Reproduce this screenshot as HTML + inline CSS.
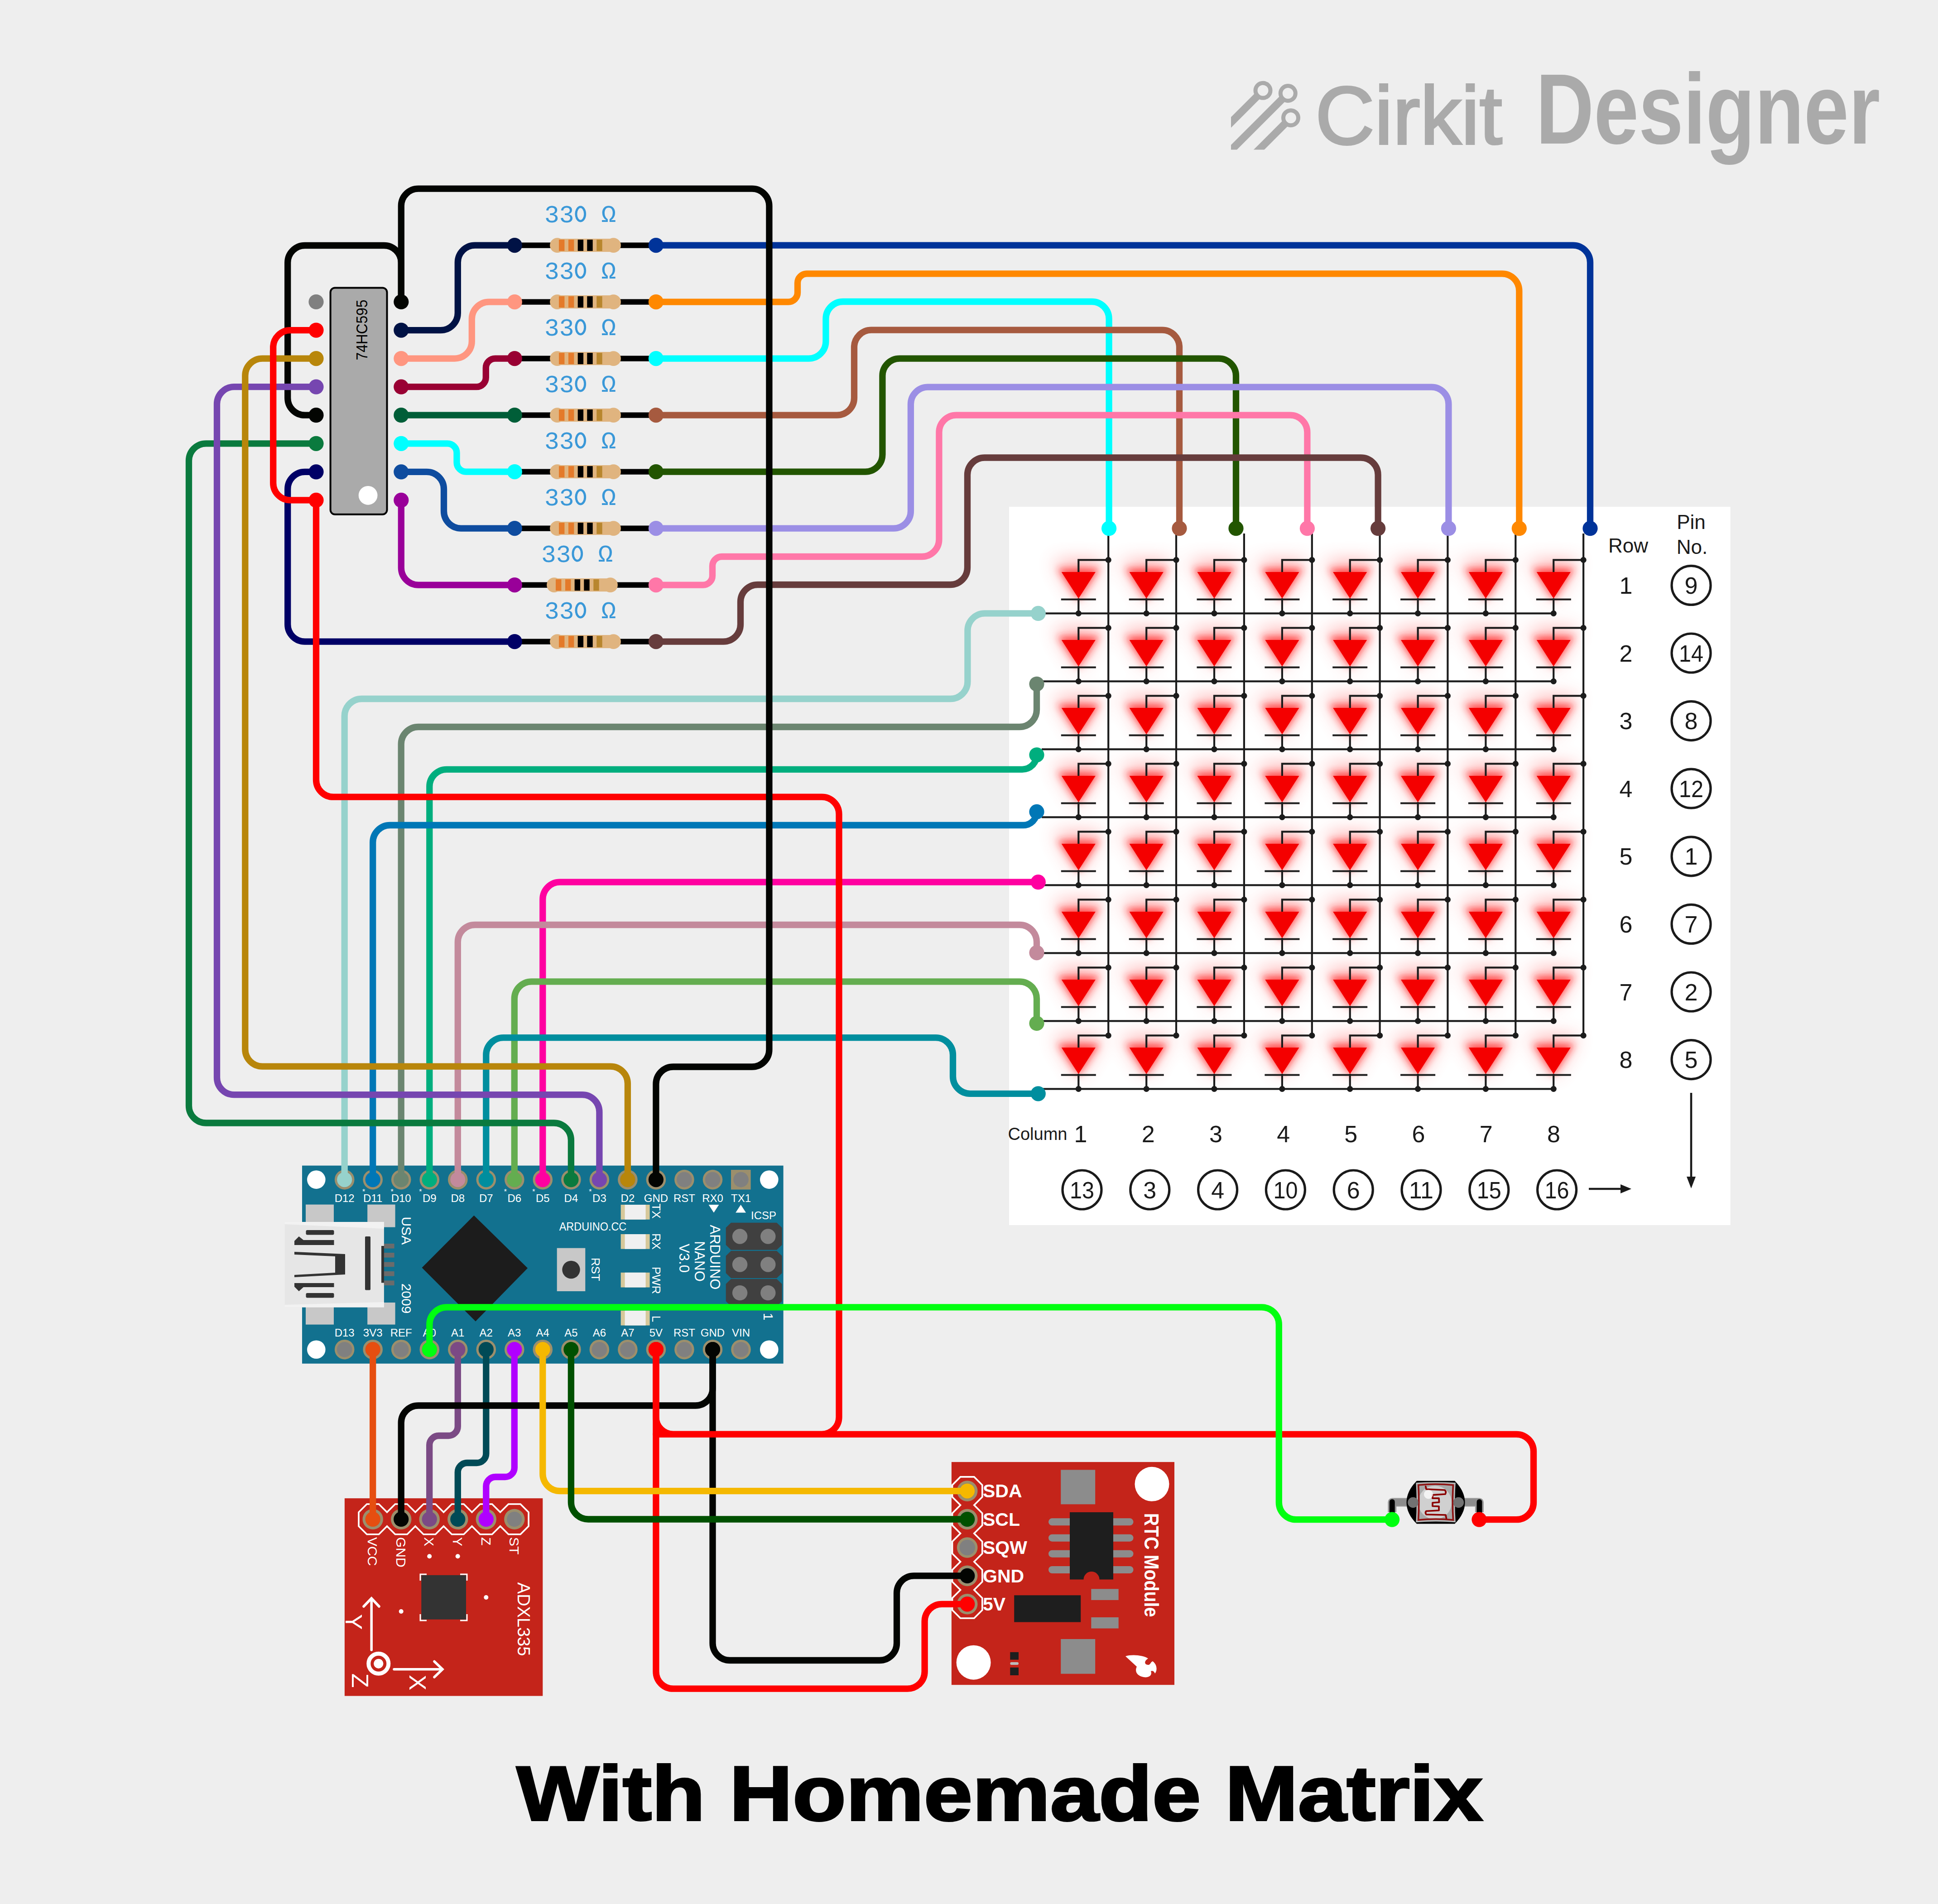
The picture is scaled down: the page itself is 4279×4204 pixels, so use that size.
<!DOCTYPE html><html><head><meta charset="utf-8"><style>html,body{margin:0;padding:0;background:#eeeeee;overflow:hidden}svg{display:block}</style></head><body><svg width="4279" height="4204" viewBox="0 0 4279 4204"><rect x="0" y="0" width="4279" height="4204" fill="#eeeeee"/>
<g fill="none" stroke="#aaaaaa" stroke-width="9">
<circle cx="2788.5" cy="199.8" r="16.5"/>
<circle cx="2843.8" cy="206.0" r="16.5"/>
<circle cx="2850.0" cy="260.2" r="16.5"/>
</g>
<clipPath id="lgclip"><rect x="2718" y="150" width="300" height="180.6"/></clipPath>
<g stroke="#aaaaaa" stroke-width="16.6" clip-path="url(#lgclip)">
<line x1="2776.8" y1="211.5" x2="2636.8" y2="351.5"/>
<line x1="2832.1" y1="217.7" x2="2612.1" y2="437.7"/>
<line x1="2838.3" y1="271.9" x2="2698.3" y2="411.9"/>
</g>
<text x="2904" y="318" font-family="Liberation Sans" font-size="182" fill="#aaaaaa" stroke="#aaaaaa" stroke-width="4" textLength="413" lengthAdjust="spacingAndGlyphs">Cirkit</text>
<text x="3391" y="316.6" font-family="Liberation Sans" font-weight="bold" font-size="221" fill="#aaaaaa" textLength="760" lengthAdjust="spacingAndGlyphs">Designer</text>
<rect x="2228" y="1119" width="1592.6" height="1586" fill="#ffffff"/>
<defs><filter id="glow" x="-50%" y="-50%" width="200%" height="200%"><feGaussianBlur stdDeviation="20"/></filter><filter id="glow2" x="-50%" y="-50%" width="200%" height="200%"><feGaussianBlur stdDeviation="8"/></filter></defs>
<g fill="#ff4040" opacity="0.4" filter="url(#glow)">
<path d="M2326.3 1238.1 L2436.3 1238.1 L2381.3 1329.1 Z"/>
<path d="M2476.2 1238.1 L2586.2 1238.1 L2531.2 1329.1 Z"/>
<path d="M2626.0 1238.1 L2736.0 1238.1 L2681.0 1329.1 Z"/>
<path d="M2775.9 1238.1 L2885.9 1238.1 L2830.9 1329.1 Z"/>
<path d="M2925.7 1238.1 L3035.7 1238.1 L2980.7 1329.1 Z"/>
<path d="M3075.6 1238.1 L3185.6 1238.1 L3130.6 1329.1 Z"/>
<path d="M3225.4 1238.1 L3335.4 1238.1 L3280.4 1329.1 Z"/>
<path d="M3375.2 1238.1 L3485.2 1238.1 L3430.2 1329.1 Z"/>
<path d="M2326.3 1388.1 L2436.3 1388.1 L2381.3 1479.1 Z"/>
<path d="M2476.2 1388.1 L2586.2 1388.1 L2531.2 1479.1 Z"/>
<path d="M2626.0 1388.1 L2736.0 1388.1 L2681.0 1479.1 Z"/>
<path d="M2775.9 1388.1 L2885.9 1388.1 L2830.9 1479.1 Z"/>
<path d="M2925.7 1388.1 L3035.7 1388.1 L2980.7 1479.1 Z"/>
<path d="M3075.6 1388.1 L3185.6 1388.1 L3130.6 1479.1 Z"/>
<path d="M3225.4 1388.1 L3335.4 1388.1 L3280.4 1479.1 Z"/>
<path d="M3375.2 1388.1 L3485.2 1388.1 L3430.2 1479.1 Z"/>
<path d="M2326.3 1538.1 L2436.3 1538.1 L2381.3 1629.1 Z"/>
<path d="M2476.2 1538.1 L2586.2 1538.1 L2531.2 1629.1 Z"/>
<path d="M2626.0 1538.1 L2736.0 1538.1 L2681.0 1629.1 Z"/>
<path d="M2775.9 1538.1 L2885.9 1538.1 L2830.9 1629.1 Z"/>
<path d="M2925.7 1538.1 L3035.7 1538.1 L2980.7 1629.1 Z"/>
<path d="M3075.6 1538.1 L3185.6 1538.1 L3130.6 1629.1 Z"/>
<path d="M3225.4 1538.1 L3335.4 1538.1 L3280.4 1629.1 Z"/>
<path d="M3375.2 1538.1 L3485.2 1538.1 L3430.2 1629.1 Z"/>
<path d="M2326.3 1688.1 L2436.3 1688.1 L2381.3 1779.1 Z"/>
<path d="M2476.2 1688.1 L2586.2 1688.1 L2531.2 1779.1 Z"/>
<path d="M2626.0 1688.1 L2736.0 1688.1 L2681.0 1779.1 Z"/>
<path d="M2775.9 1688.1 L2885.9 1688.1 L2830.9 1779.1 Z"/>
<path d="M2925.7 1688.1 L3035.7 1688.1 L2980.7 1779.1 Z"/>
<path d="M3075.6 1688.1 L3185.6 1688.1 L3130.6 1779.1 Z"/>
<path d="M3225.4 1688.1 L3335.4 1688.1 L3280.4 1779.1 Z"/>
<path d="M3375.2 1688.1 L3485.2 1688.1 L3430.2 1779.1 Z"/>
<path d="M2326.3 1838.1 L2436.3 1838.1 L2381.3 1929.1 Z"/>
<path d="M2476.2 1838.1 L2586.2 1838.1 L2531.2 1929.1 Z"/>
<path d="M2626.0 1838.1 L2736.0 1838.1 L2681.0 1929.1 Z"/>
<path d="M2775.9 1838.1 L2885.9 1838.1 L2830.9 1929.1 Z"/>
<path d="M2925.7 1838.1 L3035.7 1838.1 L2980.7 1929.1 Z"/>
<path d="M3075.6 1838.1 L3185.6 1838.1 L3130.6 1929.1 Z"/>
<path d="M3225.4 1838.1 L3335.4 1838.1 L3280.4 1929.1 Z"/>
<path d="M3375.2 1838.1 L3485.2 1838.1 L3430.2 1929.1 Z"/>
<path d="M2326.3 1988.1 L2436.3 1988.1 L2381.3 2079.1 Z"/>
<path d="M2476.2 1988.1 L2586.2 1988.1 L2531.2 2079.1 Z"/>
<path d="M2626.0 1988.1 L2736.0 1988.1 L2681.0 2079.1 Z"/>
<path d="M2775.9 1988.1 L2885.9 1988.1 L2830.9 2079.1 Z"/>
<path d="M2925.7 1988.1 L3035.7 1988.1 L2980.7 2079.1 Z"/>
<path d="M3075.6 1988.1 L3185.6 1988.1 L3130.6 2079.1 Z"/>
<path d="M3225.4 1988.1 L3335.4 1988.1 L3280.4 2079.1 Z"/>
<path d="M3375.2 1988.1 L3485.2 1988.1 L3430.2 2079.1 Z"/>
<path d="M2326.3 2138.1 L2436.3 2138.1 L2381.3 2229.1 Z"/>
<path d="M2476.2 2138.1 L2586.2 2138.1 L2531.2 2229.1 Z"/>
<path d="M2626.0 2138.1 L2736.0 2138.1 L2681.0 2229.1 Z"/>
<path d="M2775.9 2138.1 L2885.9 2138.1 L2830.9 2229.1 Z"/>
<path d="M2925.7 2138.1 L3035.7 2138.1 L2980.7 2229.1 Z"/>
<path d="M3075.6 2138.1 L3185.6 2138.1 L3130.6 2229.1 Z"/>
<path d="M3225.4 2138.1 L3335.4 2138.1 L3280.4 2229.1 Z"/>
<path d="M3375.2 2138.1 L3485.2 2138.1 L3430.2 2229.1 Z"/>
<path d="M2326.3 2288.1 L2436.3 2288.1 L2381.3 2379.1 Z"/>
<path d="M2476.2 2288.1 L2586.2 2288.1 L2531.2 2379.1 Z"/>
<path d="M2626.0 2288.1 L2736.0 2288.1 L2681.0 2379.1 Z"/>
<path d="M2775.9 2288.1 L2885.9 2288.1 L2830.9 2379.1 Z"/>
<path d="M2925.7 2288.1 L3035.7 2288.1 L2980.7 2379.1 Z"/>
<path d="M3075.6 2288.1 L3185.6 2288.1 L3130.6 2379.1 Z"/>
<path d="M3225.4 2288.1 L3335.4 2288.1 L3280.4 2379.1 Z"/>
<path d="M3375.2 2288.1 L3485.2 2288.1 L3430.2 2379.1 Z"/>
</g>
<g fill="#ff2020" opacity="0.7" filter="url(#glow2)">
<path d="M2335.3 1255.1 L2427.3 1255.1 L2381.3 1325.1 Z"/>
<path d="M2485.2 1255.1 L2577.2 1255.1 L2531.2 1325.1 Z"/>
<path d="M2635.0 1255.1 L2727.0 1255.1 L2681.0 1325.1 Z"/>
<path d="M2784.9 1255.1 L2876.9 1255.1 L2830.9 1325.1 Z"/>
<path d="M2934.7 1255.1 L3026.7 1255.1 L2980.7 1325.1 Z"/>
<path d="M3084.6 1255.1 L3176.6 1255.1 L3130.6 1325.1 Z"/>
<path d="M3234.4 1255.1 L3326.4 1255.1 L3280.4 1325.1 Z"/>
<path d="M3384.2 1255.1 L3476.2 1255.1 L3430.2 1325.1 Z"/>
<path d="M2335.3 1405.1 L2427.3 1405.1 L2381.3 1475.1 Z"/>
<path d="M2485.2 1405.1 L2577.2 1405.1 L2531.2 1475.1 Z"/>
<path d="M2635.0 1405.1 L2727.0 1405.1 L2681.0 1475.1 Z"/>
<path d="M2784.9 1405.1 L2876.9 1405.1 L2830.9 1475.1 Z"/>
<path d="M2934.7 1405.1 L3026.7 1405.1 L2980.7 1475.1 Z"/>
<path d="M3084.6 1405.1 L3176.6 1405.1 L3130.6 1475.1 Z"/>
<path d="M3234.4 1405.1 L3326.4 1405.1 L3280.4 1475.1 Z"/>
<path d="M3384.2 1405.1 L3476.2 1405.1 L3430.2 1475.1 Z"/>
<path d="M2335.3 1555.1 L2427.3 1555.1 L2381.3 1625.1 Z"/>
<path d="M2485.2 1555.1 L2577.2 1555.1 L2531.2 1625.1 Z"/>
<path d="M2635.0 1555.1 L2727.0 1555.1 L2681.0 1625.1 Z"/>
<path d="M2784.9 1555.1 L2876.9 1555.1 L2830.9 1625.1 Z"/>
<path d="M2934.7 1555.1 L3026.7 1555.1 L2980.7 1625.1 Z"/>
<path d="M3084.6 1555.1 L3176.6 1555.1 L3130.6 1625.1 Z"/>
<path d="M3234.4 1555.1 L3326.4 1555.1 L3280.4 1625.1 Z"/>
<path d="M3384.2 1555.1 L3476.2 1555.1 L3430.2 1625.1 Z"/>
<path d="M2335.3 1705.1 L2427.3 1705.1 L2381.3 1775.1 Z"/>
<path d="M2485.2 1705.1 L2577.2 1705.1 L2531.2 1775.1 Z"/>
<path d="M2635.0 1705.1 L2727.0 1705.1 L2681.0 1775.1 Z"/>
<path d="M2784.9 1705.1 L2876.9 1705.1 L2830.9 1775.1 Z"/>
<path d="M2934.7 1705.1 L3026.7 1705.1 L2980.7 1775.1 Z"/>
<path d="M3084.6 1705.1 L3176.6 1705.1 L3130.6 1775.1 Z"/>
<path d="M3234.4 1705.1 L3326.4 1705.1 L3280.4 1775.1 Z"/>
<path d="M3384.2 1705.1 L3476.2 1705.1 L3430.2 1775.1 Z"/>
<path d="M2335.3 1855.1 L2427.3 1855.1 L2381.3 1925.1 Z"/>
<path d="M2485.2 1855.1 L2577.2 1855.1 L2531.2 1925.1 Z"/>
<path d="M2635.0 1855.1 L2727.0 1855.1 L2681.0 1925.1 Z"/>
<path d="M2784.9 1855.1 L2876.9 1855.1 L2830.9 1925.1 Z"/>
<path d="M2934.7 1855.1 L3026.7 1855.1 L2980.7 1925.1 Z"/>
<path d="M3084.6 1855.1 L3176.6 1855.1 L3130.6 1925.1 Z"/>
<path d="M3234.4 1855.1 L3326.4 1855.1 L3280.4 1925.1 Z"/>
<path d="M3384.2 1855.1 L3476.2 1855.1 L3430.2 1925.1 Z"/>
<path d="M2335.3 2005.1 L2427.3 2005.1 L2381.3 2075.1 Z"/>
<path d="M2485.2 2005.1 L2577.2 2005.1 L2531.2 2075.1 Z"/>
<path d="M2635.0 2005.1 L2727.0 2005.1 L2681.0 2075.1 Z"/>
<path d="M2784.9 2005.1 L2876.9 2005.1 L2830.9 2075.1 Z"/>
<path d="M2934.7 2005.1 L3026.7 2005.1 L2980.7 2075.1 Z"/>
<path d="M3084.6 2005.1 L3176.6 2005.1 L3130.6 2075.1 Z"/>
<path d="M3234.4 2005.1 L3326.4 2005.1 L3280.4 2075.1 Z"/>
<path d="M3384.2 2005.1 L3476.2 2005.1 L3430.2 2075.1 Z"/>
<path d="M2335.3 2155.1 L2427.3 2155.1 L2381.3 2225.1 Z"/>
<path d="M2485.2 2155.1 L2577.2 2155.1 L2531.2 2225.1 Z"/>
<path d="M2635.0 2155.1 L2727.0 2155.1 L2681.0 2225.1 Z"/>
<path d="M2784.9 2155.1 L2876.9 2155.1 L2830.9 2225.1 Z"/>
<path d="M2934.7 2155.1 L3026.7 2155.1 L2980.7 2225.1 Z"/>
<path d="M3084.6 2155.1 L3176.6 2155.1 L3130.6 2225.1 Z"/>
<path d="M3234.4 2155.1 L3326.4 2155.1 L3280.4 2225.1 Z"/>
<path d="M3384.2 2155.1 L3476.2 2155.1 L3430.2 2225.1 Z"/>
<path d="M2335.3 2305.1 L2427.3 2305.1 L2381.3 2375.1 Z"/>
<path d="M2485.2 2305.1 L2577.2 2305.1 L2531.2 2375.1 Z"/>
<path d="M2635.0 2305.1 L2727.0 2305.1 L2681.0 2375.1 Z"/>
<path d="M2784.9 2305.1 L2876.9 2305.1 L2830.9 2375.1 Z"/>
<path d="M2934.7 2305.1 L3026.7 2305.1 L2980.7 2375.1 Z"/>
<path d="M3084.6 2305.1 L3176.6 2305.1 L3130.6 2375.1 Z"/>
<path d="M3234.4 2305.1 L3326.4 2305.1 L3280.4 2375.1 Z"/>
<path d="M3384.2 2305.1 L3476.2 2305.1 L3430.2 2375.1 Z"/>
</g>
<g stroke="#1c1c1c" stroke-width="4.2" fill="none">
<line x1="2447.2" y1="1178" x2="2447.2" y2="2286.4"/>
<line x1="2597.0" y1="1178" x2="2597.0" y2="2286.4"/>
<line x1="2746.9" y1="1178" x2="2746.9" y2="2286.4"/>
<line x1="2896.8" y1="1178" x2="2896.8" y2="2286.4"/>
<line x1="3046.6" y1="1178" x2="3046.6" y2="2286.4"/>
<line x1="3196.4" y1="1178" x2="3196.4" y2="2286.4"/>
<line x1="3346.3" y1="1178" x2="3346.3" y2="2286.4"/>
<line x1="3496.1" y1="1178" x2="3496.1" y2="2286.4"/>
<line x1="2300" y1="1354.3" x2="3430.2" y2="1354.3"/>
<path d="M2447.2 1236.4 L2381.3 1236.4 L2381.3 1264.4"/>
<line x1="2381.3" y1="1321.0" x2="2381.3" y2="1354.3"/>
<line x1="2342.8" y1="1323.5" x2="2419.8" y2="1323.5"/>
<path d="M2597.0 1236.4 L2531.2 1236.4 L2531.2 1264.4"/>
<line x1="2531.2" y1="1321.0" x2="2531.2" y2="1354.3"/>
<line x1="2492.7" y1="1323.5" x2="2569.7" y2="1323.5"/>
<path d="M2746.9 1236.4 L2681.0 1236.4 L2681.0 1264.4"/>
<line x1="2681.0" y1="1321.0" x2="2681.0" y2="1354.3"/>
<line x1="2642.5" y1="1323.5" x2="2719.5" y2="1323.5"/>
<path d="M2896.8 1236.4 L2830.9 1236.4 L2830.9 1264.4"/>
<line x1="2830.9" y1="1321.0" x2="2830.9" y2="1354.3"/>
<line x1="2792.4" y1="1323.5" x2="2869.4" y2="1323.5"/>
<path d="M3046.6 1236.4 L2980.7 1236.4 L2980.7 1264.4"/>
<line x1="2980.7" y1="1321.0" x2="2980.7" y2="1354.3"/>
<line x1="2942.2" y1="1323.5" x2="3019.2" y2="1323.5"/>
<path d="M3196.4 1236.4 L3130.6 1236.4 L3130.6 1264.4"/>
<line x1="3130.6" y1="1321.0" x2="3130.6" y2="1354.3"/>
<line x1="3092.1" y1="1323.5" x2="3169.1" y2="1323.5"/>
<path d="M3346.3 1236.4 L3280.4 1236.4 L3280.4 1264.4"/>
<line x1="3280.4" y1="1321.0" x2="3280.4" y2="1354.3"/>
<line x1="3241.9" y1="1323.5" x2="3318.9" y2="1323.5"/>
<path d="M3496.1 1236.4 L3430.2 1236.4 L3430.2 1264.4"/>
<line x1="3430.2" y1="1321.0" x2="3430.2" y2="1354.3"/>
<line x1="3391.8" y1="1323.5" x2="3468.8" y2="1323.5"/>
<line x1="2300" y1="1504.3" x2="3430.2" y2="1504.3"/>
<path d="M2447.2 1386.4 L2381.3 1386.4 L2381.3 1414.4"/>
<line x1="2381.3" y1="1471.0" x2="2381.3" y2="1504.3"/>
<line x1="2342.8" y1="1473.5" x2="2419.8" y2="1473.5"/>
<path d="M2597.0 1386.4 L2531.2 1386.4 L2531.2 1414.4"/>
<line x1="2531.2" y1="1471.0" x2="2531.2" y2="1504.3"/>
<line x1="2492.7" y1="1473.5" x2="2569.7" y2="1473.5"/>
<path d="M2746.9 1386.4 L2681.0 1386.4 L2681.0 1414.4"/>
<line x1="2681.0" y1="1471.0" x2="2681.0" y2="1504.3"/>
<line x1="2642.5" y1="1473.5" x2="2719.5" y2="1473.5"/>
<path d="M2896.8 1386.4 L2830.9 1386.4 L2830.9 1414.4"/>
<line x1="2830.9" y1="1471.0" x2="2830.9" y2="1504.3"/>
<line x1="2792.4" y1="1473.5" x2="2869.4" y2="1473.5"/>
<path d="M3046.6 1386.4 L2980.7 1386.4 L2980.7 1414.4"/>
<line x1="2980.7" y1="1471.0" x2="2980.7" y2="1504.3"/>
<line x1="2942.2" y1="1473.5" x2="3019.2" y2="1473.5"/>
<path d="M3196.4 1386.4 L3130.6 1386.4 L3130.6 1414.4"/>
<line x1="3130.6" y1="1471.0" x2="3130.6" y2="1504.3"/>
<line x1="3092.1" y1="1473.5" x2="3169.1" y2="1473.5"/>
<path d="M3346.3 1386.4 L3280.4 1386.4 L3280.4 1414.4"/>
<line x1="3280.4" y1="1471.0" x2="3280.4" y2="1504.3"/>
<line x1="3241.9" y1="1473.5" x2="3318.9" y2="1473.5"/>
<path d="M3496.1 1386.4 L3430.2 1386.4 L3430.2 1414.4"/>
<line x1="3430.2" y1="1471.0" x2="3430.2" y2="1504.3"/>
<line x1="3391.8" y1="1473.5" x2="3468.8" y2="1473.5"/>
<line x1="2300" y1="1654.3" x2="3430.2" y2="1654.3"/>
<path d="M2447.2 1536.4 L2381.3 1536.4 L2381.3 1564.4"/>
<line x1="2381.3" y1="1621.0" x2="2381.3" y2="1654.3"/>
<line x1="2342.8" y1="1623.5" x2="2419.8" y2="1623.5"/>
<path d="M2597.0 1536.4 L2531.2 1536.4 L2531.2 1564.4"/>
<line x1="2531.2" y1="1621.0" x2="2531.2" y2="1654.3"/>
<line x1="2492.7" y1="1623.5" x2="2569.7" y2="1623.5"/>
<path d="M2746.9 1536.4 L2681.0 1536.4 L2681.0 1564.4"/>
<line x1="2681.0" y1="1621.0" x2="2681.0" y2="1654.3"/>
<line x1="2642.5" y1="1623.5" x2="2719.5" y2="1623.5"/>
<path d="M2896.8 1536.4 L2830.9 1536.4 L2830.9 1564.4"/>
<line x1="2830.9" y1="1621.0" x2="2830.9" y2="1654.3"/>
<line x1="2792.4" y1="1623.5" x2="2869.4" y2="1623.5"/>
<path d="M3046.6 1536.4 L2980.7 1536.4 L2980.7 1564.4"/>
<line x1="2980.7" y1="1621.0" x2="2980.7" y2="1654.3"/>
<line x1="2942.2" y1="1623.5" x2="3019.2" y2="1623.5"/>
<path d="M3196.4 1536.4 L3130.6 1536.4 L3130.6 1564.4"/>
<line x1="3130.6" y1="1621.0" x2="3130.6" y2="1654.3"/>
<line x1="3092.1" y1="1623.5" x2="3169.1" y2="1623.5"/>
<path d="M3346.3 1536.4 L3280.4 1536.4 L3280.4 1564.4"/>
<line x1="3280.4" y1="1621.0" x2="3280.4" y2="1654.3"/>
<line x1="3241.9" y1="1623.5" x2="3318.9" y2="1623.5"/>
<path d="M3496.1 1536.4 L3430.2 1536.4 L3430.2 1564.4"/>
<line x1="3430.2" y1="1621.0" x2="3430.2" y2="1654.3"/>
<line x1="3391.8" y1="1623.5" x2="3468.8" y2="1623.5"/>
<line x1="2300" y1="1804.3" x2="3430.2" y2="1804.3"/>
<path d="M2447.2 1686.4 L2381.3 1686.4 L2381.3 1714.4"/>
<line x1="2381.3" y1="1771.0" x2="2381.3" y2="1804.3"/>
<line x1="2342.8" y1="1773.5" x2="2419.8" y2="1773.5"/>
<path d="M2597.0 1686.4 L2531.2 1686.4 L2531.2 1714.4"/>
<line x1="2531.2" y1="1771.0" x2="2531.2" y2="1804.3"/>
<line x1="2492.7" y1="1773.5" x2="2569.7" y2="1773.5"/>
<path d="M2746.9 1686.4 L2681.0 1686.4 L2681.0 1714.4"/>
<line x1="2681.0" y1="1771.0" x2="2681.0" y2="1804.3"/>
<line x1="2642.5" y1="1773.5" x2="2719.5" y2="1773.5"/>
<path d="M2896.8 1686.4 L2830.9 1686.4 L2830.9 1714.4"/>
<line x1="2830.9" y1="1771.0" x2="2830.9" y2="1804.3"/>
<line x1="2792.4" y1="1773.5" x2="2869.4" y2="1773.5"/>
<path d="M3046.6 1686.4 L2980.7 1686.4 L2980.7 1714.4"/>
<line x1="2980.7" y1="1771.0" x2="2980.7" y2="1804.3"/>
<line x1="2942.2" y1="1773.5" x2="3019.2" y2="1773.5"/>
<path d="M3196.4 1686.4 L3130.6 1686.4 L3130.6 1714.4"/>
<line x1="3130.6" y1="1771.0" x2="3130.6" y2="1804.3"/>
<line x1="3092.1" y1="1773.5" x2="3169.1" y2="1773.5"/>
<path d="M3346.3 1686.4 L3280.4 1686.4 L3280.4 1714.4"/>
<line x1="3280.4" y1="1771.0" x2="3280.4" y2="1804.3"/>
<line x1="3241.9" y1="1773.5" x2="3318.9" y2="1773.5"/>
<path d="M3496.1 1686.4 L3430.2 1686.4 L3430.2 1714.4"/>
<line x1="3430.2" y1="1771.0" x2="3430.2" y2="1804.3"/>
<line x1="3391.8" y1="1773.5" x2="3468.8" y2="1773.5"/>
<line x1="2300" y1="1954.3" x2="3430.2" y2="1954.3"/>
<path d="M2447.2 1836.4 L2381.3 1836.4 L2381.3 1864.4"/>
<line x1="2381.3" y1="1921.0" x2="2381.3" y2="1954.3"/>
<line x1="2342.8" y1="1923.5" x2="2419.8" y2="1923.5"/>
<path d="M2597.0 1836.4 L2531.2 1836.4 L2531.2 1864.4"/>
<line x1="2531.2" y1="1921.0" x2="2531.2" y2="1954.3"/>
<line x1="2492.7" y1="1923.5" x2="2569.7" y2="1923.5"/>
<path d="M2746.9 1836.4 L2681.0 1836.4 L2681.0 1864.4"/>
<line x1="2681.0" y1="1921.0" x2="2681.0" y2="1954.3"/>
<line x1="2642.5" y1="1923.5" x2="2719.5" y2="1923.5"/>
<path d="M2896.8 1836.4 L2830.9 1836.4 L2830.9 1864.4"/>
<line x1="2830.9" y1="1921.0" x2="2830.9" y2="1954.3"/>
<line x1="2792.4" y1="1923.5" x2="2869.4" y2="1923.5"/>
<path d="M3046.6 1836.4 L2980.7 1836.4 L2980.7 1864.4"/>
<line x1="2980.7" y1="1921.0" x2="2980.7" y2="1954.3"/>
<line x1="2942.2" y1="1923.5" x2="3019.2" y2="1923.5"/>
<path d="M3196.4 1836.4 L3130.6 1836.4 L3130.6 1864.4"/>
<line x1="3130.6" y1="1921.0" x2="3130.6" y2="1954.3"/>
<line x1="3092.1" y1="1923.5" x2="3169.1" y2="1923.5"/>
<path d="M3346.3 1836.4 L3280.4 1836.4 L3280.4 1864.4"/>
<line x1="3280.4" y1="1921.0" x2="3280.4" y2="1954.3"/>
<line x1="3241.9" y1="1923.5" x2="3318.9" y2="1923.5"/>
<path d="M3496.1 1836.4 L3430.2 1836.4 L3430.2 1864.4"/>
<line x1="3430.2" y1="1921.0" x2="3430.2" y2="1954.3"/>
<line x1="3391.8" y1="1923.5" x2="3468.8" y2="1923.5"/>
<line x1="2300" y1="2104.3" x2="3430.2" y2="2104.3"/>
<path d="M2447.2 1986.4 L2381.3 1986.4 L2381.3 2014.4"/>
<line x1="2381.3" y1="2071.0" x2="2381.3" y2="2104.3"/>
<line x1="2342.8" y1="2073.5" x2="2419.8" y2="2073.5"/>
<path d="M2597.0 1986.4 L2531.2 1986.4 L2531.2 2014.4"/>
<line x1="2531.2" y1="2071.0" x2="2531.2" y2="2104.3"/>
<line x1="2492.7" y1="2073.5" x2="2569.7" y2="2073.5"/>
<path d="M2746.9 1986.4 L2681.0 1986.4 L2681.0 2014.4"/>
<line x1="2681.0" y1="2071.0" x2="2681.0" y2="2104.3"/>
<line x1="2642.5" y1="2073.5" x2="2719.5" y2="2073.5"/>
<path d="M2896.8 1986.4 L2830.9 1986.4 L2830.9 2014.4"/>
<line x1="2830.9" y1="2071.0" x2="2830.9" y2="2104.3"/>
<line x1="2792.4" y1="2073.5" x2="2869.4" y2="2073.5"/>
<path d="M3046.6 1986.4 L2980.7 1986.4 L2980.7 2014.4"/>
<line x1="2980.7" y1="2071.0" x2="2980.7" y2="2104.3"/>
<line x1="2942.2" y1="2073.5" x2="3019.2" y2="2073.5"/>
<path d="M3196.4 1986.4 L3130.6 1986.4 L3130.6 2014.4"/>
<line x1="3130.6" y1="2071.0" x2="3130.6" y2="2104.3"/>
<line x1="3092.1" y1="2073.5" x2="3169.1" y2="2073.5"/>
<path d="M3346.3 1986.4 L3280.4 1986.4 L3280.4 2014.4"/>
<line x1="3280.4" y1="2071.0" x2="3280.4" y2="2104.3"/>
<line x1="3241.9" y1="2073.5" x2="3318.9" y2="2073.5"/>
<path d="M3496.1 1986.4 L3430.2 1986.4 L3430.2 2014.4"/>
<line x1="3430.2" y1="2071.0" x2="3430.2" y2="2104.3"/>
<line x1="3391.8" y1="2073.5" x2="3468.8" y2="2073.5"/>
<line x1="2300" y1="2254.3" x2="3430.2" y2="2254.3"/>
<path d="M2447.2 2136.4 L2381.3 2136.4 L2381.3 2164.4"/>
<line x1="2381.3" y1="2221.0" x2="2381.3" y2="2254.3"/>
<line x1="2342.8" y1="2223.5" x2="2419.8" y2="2223.5"/>
<path d="M2597.0 2136.4 L2531.2 2136.4 L2531.2 2164.4"/>
<line x1="2531.2" y1="2221.0" x2="2531.2" y2="2254.3"/>
<line x1="2492.7" y1="2223.5" x2="2569.7" y2="2223.5"/>
<path d="M2746.9 2136.4 L2681.0 2136.4 L2681.0 2164.4"/>
<line x1="2681.0" y1="2221.0" x2="2681.0" y2="2254.3"/>
<line x1="2642.5" y1="2223.5" x2="2719.5" y2="2223.5"/>
<path d="M2896.8 2136.4 L2830.9 2136.4 L2830.9 2164.4"/>
<line x1="2830.9" y1="2221.0" x2="2830.9" y2="2254.3"/>
<line x1="2792.4" y1="2223.5" x2="2869.4" y2="2223.5"/>
<path d="M3046.6 2136.4 L2980.7 2136.4 L2980.7 2164.4"/>
<line x1="2980.7" y1="2221.0" x2="2980.7" y2="2254.3"/>
<line x1="2942.2" y1="2223.5" x2="3019.2" y2="2223.5"/>
<path d="M3196.4 2136.4 L3130.6 2136.4 L3130.6 2164.4"/>
<line x1="3130.6" y1="2221.0" x2="3130.6" y2="2254.3"/>
<line x1="3092.1" y1="2223.5" x2="3169.1" y2="2223.5"/>
<path d="M3346.3 2136.4 L3280.4 2136.4 L3280.4 2164.4"/>
<line x1="3280.4" y1="2221.0" x2="3280.4" y2="2254.3"/>
<line x1="3241.9" y1="2223.5" x2="3318.9" y2="2223.5"/>
<path d="M3496.1 2136.4 L3430.2 2136.4 L3430.2 2164.4"/>
<line x1="3430.2" y1="2221.0" x2="3430.2" y2="2254.3"/>
<line x1="3391.8" y1="2223.5" x2="3468.8" y2="2223.5"/>
<line x1="2300" y1="2404.3" x2="3430.2" y2="2404.3"/>
<path d="M2447.2 2286.4 L2381.3 2286.4 L2381.3 2314.4"/>
<line x1="2381.3" y1="2371.0" x2="2381.3" y2="2404.3"/>
<line x1="2342.8" y1="2373.5" x2="2419.8" y2="2373.5"/>
<path d="M2597.0 2286.4 L2531.2 2286.4 L2531.2 2314.4"/>
<line x1="2531.2" y1="2371.0" x2="2531.2" y2="2404.3"/>
<line x1="2492.7" y1="2373.5" x2="2569.7" y2="2373.5"/>
<path d="M2746.9 2286.4 L2681.0 2286.4 L2681.0 2314.4"/>
<line x1="2681.0" y1="2371.0" x2="2681.0" y2="2404.3"/>
<line x1="2642.5" y1="2373.5" x2="2719.5" y2="2373.5"/>
<path d="M2896.8 2286.4 L2830.9 2286.4 L2830.9 2314.4"/>
<line x1="2830.9" y1="2371.0" x2="2830.9" y2="2404.3"/>
<line x1="2792.4" y1="2373.5" x2="2869.4" y2="2373.5"/>
<path d="M3046.6 2286.4 L2980.7 2286.4 L2980.7 2314.4"/>
<line x1="2980.7" y1="2371.0" x2="2980.7" y2="2404.3"/>
<line x1="2942.2" y1="2373.5" x2="3019.2" y2="2373.5"/>
<path d="M3196.4 2286.4 L3130.6 2286.4 L3130.6 2314.4"/>
<line x1="3130.6" y1="2371.0" x2="3130.6" y2="2404.3"/>
<line x1="3092.1" y1="2373.5" x2="3169.1" y2="2373.5"/>
<path d="M3346.3 2286.4 L3280.4 2286.4 L3280.4 2314.4"/>
<line x1="3280.4" y1="2371.0" x2="3280.4" y2="2404.3"/>
<line x1="3241.9" y1="2373.5" x2="3318.9" y2="2373.5"/>
<path d="M3496.1 2286.4 L3430.2 2286.4 L3430.2 2314.4"/>
<line x1="3430.2" y1="2371.0" x2="3430.2" y2="2404.3"/>
<line x1="3391.8" y1="2373.5" x2="3468.8" y2="2373.5"/>
</g>
<g fill="#f40000">
<path d="M2343.8 1263.1 L2418.8 1263.1 L2381.3 1321.6 Z"/>
<path d="M2493.7 1263.1 L2568.7 1263.1 L2531.2 1321.6 Z"/>
<path d="M2643.5 1263.1 L2718.5 1263.1 L2681.0 1321.6 Z"/>
<path d="M2793.4 1263.1 L2868.4 1263.1 L2830.9 1321.6 Z"/>
<path d="M2943.2 1263.1 L3018.2 1263.1 L2980.7 1321.6 Z"/>
<path d="M3093.1 1263.1 L3168.1 1263.1 L3130.6 1321.6 Z"/>
<path d="M3242.9 1263.1 L3317.9 1263.1 L3280.4 1321.6 Z"/>
<path d="M3392.8 1263.1 L3467.8 1263.1 L3430.2 1321.6 Z"/>
<path d="M2343.8 1413.1 L2418.8 1413.1 L2381.3 1471.6 Z"/>
<path d="M2493.7 1413.1 L2568.7 1413.1 L2531.2 1471.6 Z"/>
<path d="M2643.5 1413.1 L2718.5 1413.1 L2681.0 1471.6 Z"/>
<path d="M2793.4 1413.1 L2868.4 1413.1 L2830.9 1471.6 Z"/>
<path d="M2943.2 1413.1 L3018.2 1413.1 L2980.7 1471.6 Z"/>
<path d="M3093.1 1413.1 L3168.1 1413.1 L3130.6 1471.6 Z"/>
<path d="M3242.9 1413.1 L3317.9 1413.1 L3280.4 1471.6 Z"/>
<path d="M3392.8 1413.1 L3467.8 1413.1 L3430.2 1471.6 Z"/>
<path d="M2343.8 1563.1 L2418.8 1563.1 L2381.3 1621.6 Z"/>
<path d="M2493.7 1563.1 L2568.7 1563.1 L2531.2 1621.6 Z"/>
<path d="M2643.5 1563.1 L2718.5 1563.1 L2681.0 1621.6 Z"/>
<path d="M2793.4 1563.1 L2868.4 1563.1 L2830.9 1621.6 Z"/>
<path d="M2943.2 1563.1 L3018.2 1563.1 L2980.7 1621.6 Z"/>
<path d="M3093.1 1563.1 L3168.1 1563.1 L3130.6 1621.6 Z"/>
<path d="M3242.9 1563.1 L3317.9 1563.1 L3280.4 1621.6 Z"/>
<path d="M3392.8 1563.1 L3467.8 1563.1 L3430.2 1621.6 Z"/>
<path d="M2343.8 1713.1 L2418.8 1713.1 L2381.3 1771.6 Z"/>
<path d="M2493.7 1713.1 L2568.7 1713.1 L2531.2 1771.6 Z"/>
<path d="M2643.5 1713.1 L2718.5 1713.1 L2681.0 1771.6 Z"/>
<path d="M2793.4 1713.1 L2868.4 1713.1 L2830.9 1771.6 Z"/>
<path d="M2943.2 1713.1 L3018.2 1713.1 L2980.7 1771.6 Z"/>
<path d="M3093.1 1713.1 L3168.1 1713.1 L3130.6 1771.6 Z"/>
<path d="M3242.9 1713.1 L3317.9 1713.1 L3280.4 1771.6 Z"/>
<path d="M3392.8 1713.1 L3467.8 1713.1 L3430.2 1771.6 Z"/>
<path d="M2343.8 1863.1 L2418.8 1863.1 L2381.3 1921.6 Z"/>
<path d="M2493.7 1863.1 L2568.7 1863.1 L2531.2 1921.6 Z"/>
<path d="M2643.5 1863.1 L2718.5 1863.1 L2681.0 1921.6 Z"/>
<path d="M2793.4 1863.1 L2868.4 1863.1 L2830.9 1921.6 Z"/>
<path d="M2943.2 1863.1 L3018.2 1863.1 L2980.7 1921.6 Z"/>
<path d="M3093.1 1863.1 L3168.1 1863.1 L3130.6 1921.6 Z"/>
<path d="M3242.9 1863.1 L3317.9 1863.1 L3280.4 1921.6 Z"/>
<path d="M3392.8 1863.1 L3467.8 1863.1 L3430.2 1921.6 Z"/>
<path d="M2343.8 2013.1 L2418.8 2013.1 L2381.3 2071.6 Z"/>
<path d="M2493.7 2013.1 L2568.7 2013.1 L2531.2 2071.6 Z"/>
<path d="M2643.5 2013.1 L2718.5 2013.1 L2681.0 2071.6 Z"/>
<path d="M2793.4 2013.1 L2868.4 2013.1 L2830.9 2071.6 Z"/>
<path d="M2943.2 2013.1 L3018.2 2013.1 L2980.7 2071.6 Z"/>
<path d="M3093.1 2013.1 L3168.1 2013.1 L3130.6 2071.6 Z"/>
<path d="M3242.9 2013.1 L3317.9 2013.1 L3280.4 2071.6 Z"/>
<path d="M3392.8 2013.1 L3467.8 2013.1 L3430.2 2071.6 Z"/>
<path d="M2343.8 2163.1 L2418.8 2163.1 L2381.3 2221.6 Z"/>
<path d="M2493.7 2163.1 L2568.7 2163.1 L2531.2 2221.6 Z"/>
<path d="M2643.5 2163.1 L2718.5 2163.1 L2681.0 2221.6 Z"/>
<path d="M2793.4 2163.1 L2868.4 2163.1 L2830.9 2221.6 Z"/>
<path d="M2943.2 2163.1 L3018.2 2163.1 L2980.7 2221.6 Z"/>
<path d="M3093.1 2163.1 L3168.1 2163.1 L3130.6 2221.6 Z"/>
<path d="M3242.9 2163.1 L3317.9 2163.1 L3280.4 2221.6 Z"/>
<path d="M3392.8 2163.1 L3467.8 2163.1 L3430.2 2221.6 Z"/>
<path d="M2343.8 2313.1 L2418.8 2313.1 L2381.3 2371.6 Z"/>
<path d="M2493.7 2313.1 L2568.7 2313.1 L2531.2 2371.6 Z"/>
<path d="M2643.5 2313.1 L2718.5 2313.1 L2681.0 2371.6 Z"/>
<path d="M2793.4 2313.1 L2868.4 2313.1 L2830.9 2371.6 Z"/>
<path d="M2943.2 2313.1 L3018.2 2313.1 L2980.7 2371.6 Z"/>
<path d="M3093.1 2313.1 L3168.1 2313.1 L3130.6 2371.6 Z"/>
<path d="M3242.9 2313.1 L3317.9 2313.1 L3280.4 2371.6 Z"/>
<path d="M3392.8 2313.1 L3467.8 2313.1 L3430.2 2371.6 Z"/>
</g>
<g fill="#1c1c1c">
<circle cx="2381.3" cy="1354.3" r="6.6"/>
<circle cx="2447.2" cy="1236.4" r="6.6"/>
<circle cx="2531.2" cy="1354.3" r="6.6"/>
<circle cx="2597.0" cy="1236.4" r="6.6"/>
<circle cx="2681.0" cy="1354.3" r="6.6"/>
<circle cx="2746.9" cy="1236.4" r="6.6"/>
<circle cx="2830.9" cy="1354.3" r="6.6"/>
<circle cx="2896.8" cy="1236.4" r="6.6"/>
<circle cx="2980.7" cy="1354.3" r="6.6"/>
<circle cx="3046.6" cy="1236.4" r="6.6"/>
<circle cx="3130.6" cy="1354.3" r="6.6"/>
<circle cx="3196.4" cy="1236.4" r="6.6"/>
<circle cx="3280.4" cy="1354.3" r="6.6"/>
<circle cx="3346.3" cy="1236.4" r="6.6"/>
<circle cx="3430.2" cy="1354.3" r="6.6"/>
<circle cx="3496.1" cy="1236.4" r="6.6"/>
<circle cx="2381.3" cy="1504.3" r="6.6"/>
<circle cx="2447.2" cy="1386.4" r="6.6"/>
<circle cx="2531.2" cy="1504.3" r="6.6"/>
<circle cx="2597.0" cy="1386.4" r="6.6"/>
<circle cx="2681.0" cy="1504.3" r="6.6"/>
<circle cx="2746.9" cy="1386.4" r="6.6"/>
<circle cx="2830.9" cy="1504.3" r="6.6"/>
<circle cx="2896.8" cy="1386.4" r="6.6"/>
<circle cx="2980.7" cy="1504.3" r="6.6"/>
<circle cx="3046.6" cy="1386.4" r="6.6"/>
<circle cx="3130.6" cy="1504.3" r="6.6"/>
<circle cx="3196.4" cy="1386.4" r="6.6"/>
<circle cx="3280.4" cy="1504.3" r="6.6"/>
<circle cx="3346.3" cy="1386.4" r="6.6"/>
<circle cx="3430.2" cy="1504.3" r="6.6"/>
<circle cx="3496.1" cy="1386.4" r="6.6"/>
<circle cx="2381.3" cy="1654.3" r="6.6"/>
<circle cx="2447.2" cy="1536.4" r="6.6"/>
<circle cx="2531.2" cy="1654.3" r="6.6"/>
<circle cx="2597.0" cy="1536.4" r="6.6"/>
<circle cx="2681.0" cy="1654.3" r="6.6"/>
<circle cx="2746.9" cy="1536.4" r="6.6"/>
<circle cx="2830.9" cy="1654.3" r="6.6"/>
<circle cx="2896.8" cy="1536.4" r="6.6"/>
<circle cx="2980.7" cy="1654.3" r="6.6"/>
<circle cx="3046.6" cy="1536.4" r="6.6"/>
<circle cx="3130.6" cy="1654.3" r="6.6"/>
<circle cx="3196.4" cy="1536.4" r="6.6"/>
<circle cx="3280.4" cy="1654.3" r="6.6"/>
<circle cx="3346.3" cy="1536.4" r="6.6"/>
<circle cx="3430.2" cy="1654.3" r="6.6"/>
<circle cx="3496.1" cy="1536.4" r="6.6"/>
<circle cx="2381.3" cy="1804.3" r="6.6"/>
<circle cx="2447.2" cy="1686.4" r="6.6"/>
<circle cx="2531.2" cy="1804.3" r="6.6"/>
<circle cx="2597.0" cy="1686.4" r="6.6"/>
<circle cx="2681.0" cy="1804.3" r="6.6"/>
<circle cx="2746.9" cy="1686.4" r="6.6"/>
<circle cx="2830.9" cy="1804.3" r="6.6"/>
<circle cx="2896.8" cy="1686.4" r="6.6"/>
<circle cx="2980.7" cy="1804.3" r="6.6"/>
<circle cx="3046.6" cy="1686.4" r="6.6"/>
<circle cx="3130.6" cy="1804.3" r="6.6"/>
<circle cx="3196.4" cy="1686.4" r="6.6"/>
<circle cx="3280.4" cy="1804.3" r="6.6"/>
<circle cx="3346.3" cy="1686.4" r="6.6"/>
<circle cx="3430.2" cy="1804.3" r="6.6"/>
<circle cx="3496.1" cy="1686.4" r="6.6"/>
<circle cx="2381.3" cy="1954.3" r="6.6"/>
<circle cx="2447.2" cy="1836.4" r="6.6"/>
<circle cx="2531.2" cy="1954.3" r="6.6"/>
<circle cx="2597.0" cy="1836.4" r="6.6"/>
<circle cx="2681.0" cy="1954.3" r="6.6"/>
<circle cx="2746.9" cy="1836.4" r="6.6"/>
<circle cx="2830.9" cy="1954.3" r="6.6"/>
<circle cx="2896.8" cy="1836.4" r="6.6"/>
<circle cx="2980.7" cy="1954.3" r="6.6"/>
<circle cx="3046.6" cy="1836.4" r="6.6"/>
<circle cx="3130.6" cy="1954.3" r="6.6"/>
<circle cx="3196.4" cy="1836.4" r="6.6"/>
<circle cx="3280.4" cy="1954.3" r="6.6"/>
<circle cx="3346.3" cy="1836.4" r="6.6"/>
<circle cx="3430.2" cy="1954.3" r="6.6"/>
<circle cx="3496.1" cy="1836.4" r="6.6"/>
<circle cx="2381.3" cy="2104.3" r="6.6"/>
<circle cx="2447.2" cy="1986.4" r="6.6"/>
<circle cx="2531.2" cy="2104.3" r="6.6"/>
<circle cx="2597.0" cy="1986.4" r="6.6"/>
<circle cx="2681.0" cy="2104.3" r="6.6"/>
<circle cx="2746.9" cy="1986.4" r="6.6"/>
<circle cx="2830.9" cy="2104.3" r="6.6"/>
<circle cx="2896.8" cy="1986.4" r="6.6"/>
<circle cx="2980.7" cy="2104.3" r="6.6"/>
<circle cx="3046.6" cy="1986.4" r="6.6"/>
<circle cx="3130.6" cy="2104.3" r="6.6"/>
<circle cx="3196.4" cy="1986.4" r="6.6"/>
<circle cx="3280.4" cy="2104.3" r="6.6"/>
<circle cx="3346.3" cy="1986.4" r="6.6"/>
<circle cx="3430.2" cy="2104.3" r="6.6"/>
<circle cx="3496.1" cy="1986.4" r="6.6"/>
<circle cx="2381.3" cy="2254.3" r="6.6"/>
<circle cx="2447.2" cy="2136.4" r="6.6"/>
<circle cx="2531.2" cy="2254.3" r="6.6"/>
<circle cx="2597.0" cy="2136.4" r="6.6"/>
<circle cx="2681.0" cy="2254.3" r="6.6"/>
<circle cx="2746.9" cy="2136.4" r="6.6"/>
<circle cx="2830.9" cy="2254.3" r="6.6"/>
<circle cx="2896.8" cy="2136.4" r="6.6"/>
<circle cx="2980.7" cy="2254.3" r="6.6"/>
<circle cx="3046.6" cy="2136.4" r="6.6"/>
<circle cx="3130.6" cy="2254.3" r="6.6"/>
<circle cx="3196.4" cy="2136.4" r="6.6"/>
<circle cx="3280.4" cy="2254.3" r="6.6"/>
<circle cx="3346.3" cy="2136.4" r="6.6"/>
<circle cx="3430.2" cy="2254.3" r="6.6"/>
<circle cx="3496.1" cy="2136.4" r="6.6"/>
<circle cx="2381.3" cy="2404.3" r="6.6"/>
<circle cx="2447.2" cy="2286.4" r="6.6"/>
<circle cx="2531.2" cy="2404.3" r="6.6"/>
<circle cx="2597.0" cy="2286.4" r="6.6"/>
<circle cx="2681.0" cy="2404.3" r="6.6"/>
<circle cx="2746.9" cy="2286.4" r="6.6"/>
<circle cx="2830.9" cy="2404.3" r="6.6"/>
<circle cx="2896.8" cy="2286.4" r="6.6"/>
<circle cx="2980.7" cy="2404.3" r="6.6"/>
<circle cx="3046.6" cy="2286.4" r="6.6"/>
<circle cx="3130.6" cy="2404.3" r="6.6"/>
<circle cx="3196.4" cy="2286.4" r="6.6"/>
<circle cx="3280.4" cy="2404.3" r="6.6"/>
<circle cx="3346.3" cy="2286.4" r="6.6"/>
<circle cx="3430.2" cy="2404.3" r="6.6"/>
<circle cx="3496.1" cy="2286.4" r="6.6"/>
</g>
<g font-family="Liberation Sans" fill="#1a1a1a" text-anchor="middle">
<text x="3595" y="1220" font-size="44">Row</text>
<text x="3734" y="1168" font-size="44">Pin</text>
<text x="3736" y="1223" font-size="44">No.</text>
<text x="3590" y="1310.9" font-size="52">1</text>
<circle cx="3734" cy="1292.4" r="43" fill="none" stroke="#1a1a1a" stroke-width="5.2"/>
<text x="3734" y="1310.9" font-size="52" >9</text>
<text x="3590" y="1460.5" font-size="52">2</text>
<circle cx="3734" cy="1442.0" r="43" fill="none" stroke="#1a1a1a" stroke-width="5.2"/>
<text x="3734" y="1460.5" font-size="52" textLength="54" lengthAdjust="spacingAndGlyphs">14</text>
<text x="3590" y="1610.1" font-size="52">3</text>
<circle cx="3734" cy="1591.6" r="43" fill="none" stroke="#1a1a1a" stroke-width="5.2"/>
<text x="3734" y="1610.1" font-size="52" >8</text>
<text x="3590" y="1759.7" font-size="52">4</text>
<circle cx="3734" cy="1741.2" r="43" fill="none" stroke="#1a1a1a" stroke-width="5.2"/>
<text x="3734" y="1759.7" font-size="52" textLength="54" lengthAdjust="spacingAndGlyphs">12</text>
<text x="3590" y="1909.3" font-size="52">5</text>
<circle cx="3734" cy="1890.8" r="43" fill="none" stroke="#1a1a1a" stroke-width="5.2"/>
<text x="3734" y="1909.3" font-size="52" >1</text>
<text x="3590" y="2058.9" font-size="52">6</text>
<circle cx="3734" cy="2040.4" r="43" fill="none" stroke="#1a1a1a" stroke-width="5.2"/>
<text x="3734" y="2058.9" font-size="52" >7</text>
<text x="3590" y="2208.5" font-size="52">7</text>
<circle cx="3734" cy="2190.0" r="43" fill="none" stroke="#1a1a1a" stroke-width="5.2"/>
<text x="3734" y="2208.5" font-size="52" >2</text>
<text x="3590" y="2358.1" font-size="52">8</text>
<circle cx="3734" cy="2339.6" r="43" fill="none" stroke="#1a1a1a" stroke-width="5.2"/>
<text x="3734" y="2358.1" font-size="52" >5</text>
<text x="2291" y="2517" font-size="38">Column</text>
<text x="2386.0" y="2522.0" font-size="52">1</text>
<circle cx="2389.0" cy="2627" r="43" fill="none" stroke="#1a1a1a" stroke-width="5.2"/>
<text x="2389.0" y="2645.5" font-size="52" textLength="54" lengthAdjust="spacingAndGlyphs">13</text>
<text x="2535.2" y="2522.0" font-size="52">2</text>
<circle cx="2538.8" cy="2627" r="43" fill="none" stroke="#1a1a1a" stroke-width="5.2"/>
<text x="2538.8" y="2645.5" font-size="52" >3</text>
<text x="2684.4" y="2522.0" font-size="52">3</text>
<circle cx="2688.6" cy="2627" r="43" fill="none" stroke="#1a1a1a" stroke-width="5.2"/>
<text x="2688.6" y="2645.5" font-size="52" >4</text>
<text x="2833.6" y="2522.0" font-size="52">4</text>
<circle cx="2838.4" cy="2627" r="43" fill="none" stroke="#1a1a1a" stroke-width="5.2"/>
<text x="2838.4" y="2645.5" font-size="52" textLength="54" lengthAdjust="spacingAndGlyphs">10</text>
<text x="2982.8" y="2522.0" font-size="52">5</text>
<circle cx="2988.2" cy="2627" r="43" fill="none" stroke="#1a1a1a" stroke-width="5.2"/>
<text x="2988.2" y="2645.5" font-size="52" >6</text>
<text x="3132.0" y="2522.0" font-size="52">6</text>
<circle cx="3138.0" cy="2627" r="43" fill="none" stroke="#1a1a1a" stroke-width="5.2"/>
<text x="3138.0" y="2645.5" font-size="52" textLength="54" lengthAdjust="spacingAndGlyphs">11</text>
<text x="3281.2" y="2522.0" font-size="52">7</text>
<circle cx="3287.8" cy="2627" r="43" fill="none" stroke="#1a1a1a" stroke-width="5.2"/>
<text x="3287.8" y="2645.5" font-size="52" textLength="54" lengthAdjust="spacingAndGlyphs">15</text>
<text x="3430.4" y="2522.0" font-size="52">8</text>
<circle cx="3437.6" cy="2627" r="43" fill="none" stroke="#1a1a1a" stroke-width="5.2"/>
<text x="3437.6" y="2645.5" font-size="52" textLength="54" lengthAdjust="spacingAndGlyphs">16</text>
</g>
<g stroke="#1a1a1a" stroke-width="4.5" fill="#1a1a1a">
<line x1="3734" y1="2413" x2="3734" y2="2600"/><path d="M3724 2598 L3744 2598 L3734 2624 Z" stroke="none"/>
<line x1="3508" y1="2625" x2="3580" y2="2625"/><path d="M3578 2615 L3578 2635 L3602 2625 Z" stroke="none"/>
</g>
<rect x="729.6" y="635.4" width="124.9" height="500.4" rx="10" fill="#aaaaaa" stroke="#000" stroke-width="4"/>
<text transform="translate(810.5 728.6) rotate(-90)" x="0" y="0" text-anchor="middle" font-family="Liberation Sans" font-size="35" fill="#000" textLength="134" lengthAdjust="spacingAndGlyphs">74HC595</text>
<circle cx="812.6" cy="1093.8" r="20.9" fill="#ffffff"/>
<circle cx="698" cy="666.5" r="16.6" fill="#808080"/>
<g>
<line x1="1136" y1="541.6" x2="1217.0" y2="541.6" stroke="#000" stroke-width="12.4" stroke-linecap="round"/>
<line x1="1366.0" y1="541.6" x2="1448" y2="541.6" stroke="#000" stroke-width="12.4" stroke-linecap="round"/>
<rect x="1229.0" y="527.1" width="126.0" height="29" fill="#e0b47f"/>
<circle cx="1230.5" cy="541.6" r="16.4" fill="#e0b47f"/><circle cx="1354.5" cy="541.6" r="16.4" fill="#e0b47f"/>
<rect x="1234.0" y="529.1" width="12.4" height="25" fill="#e47a2a"/>
<rect x="1255.0" y="529.1" width="12.4" height="25" fill="#e47a2a"/>
<rect x="1275.7" y="529.1" width="12.4" height="25" fill="#000000"/>
<rect x="1296.3" y="529.1" width="12.4" height="25" fill="#000000"/>
<rect x="1317.3" y="529.1" width="12.4" height="25" fill="#b8862e"/>
</g>
<text x="1202.0" y="491.1" font-family="Liberation Mono" font-size="54.5" fill="#3a98d8">33</text>
<text x="1327.5" y="491.1" font-family="Liberation Mono" font-size="54.5" fill="#3a98d8">Ω</text>
<ellipse cx="1281.8" cy="472.5" rx="9.9" ry="15.6" fill="none" stroke="#3a98d8" stroke-width="4.9"/>
<g>
<line x1="1136" y1="666.6" x2="1217.0" y2="666.6" stroke="#000" stroke-width="12.4" stroke-linecap="round"/>
<line x1="1366.0" y1="666.6" x2="1448" y2="666.6" stroke="#000" stroke-width="12.4" stroke-linecap="round"/>
<rect x="1229.0" y="652.1" width="126.0" height="29" fill="#e0b47f"/>
<circle cx="1230.5" cy="666.6" r="16.4" fill="#e0b47f"/><circle cx="1354.5" cy="666.6" r="16.4" fill="#e0b47f"/>
<rect x="1234.0" y="654.1" width="12.4" height="25" fill="#e47a2a"/>
<rect x="1255.0" y="654.1" width="12.4" height="25" fill="#e47a2a"/>
<rect x="1275.7" y="654.1" width="12.4" height="25" fill="#000000"/>
<rect x="1296.3" y="654.1" width="12.4" height="25" fill="#000000"/>
<rect x="1317.3" y="654.1" width="12.4" height="25" fill="#b8862e"/>
</g>
<text x="1202.0" y="616.1" font-family="Liberation Mono" font-size="54.5" fill="#3a98d8">33</text>
<text x="1327.5" y="616.1" font-family="Liberation Mono" font-size="54.5" fill="#3a98d8">Ω</text>
<ellipse cx="1281.8" cy="597.5" rx="9.9" ry="15.6" fill="none" stroke="#3a98d8" stroke-width="4.9"/>
<g>
<line x1="1136" y1="791.6" x2="1217.0" y2="791.6" stroke="#000" stroke-width="12.4" stroke-linecap="round"/>
<line x1="1366.0" y1="791.6" x2="1448" y2="791.6" stroke="#000" stroke-width="12.4" stroke-linecap="round"/>
<rect x="1229.0" y="777.1" width="126.0" height="29" fill="#e0b47f"/>
<circle cx="1230.5" cy="791.6" r="16.4" fill="#e0b47f"/><circle cx="1354.5" cy="791.6" r="16.4" fill="#e0b47f"/>
<rect x="1234.0" y="779.1" width="12.4" height="25" fill="#e47a2a"/>
<rect x="1255.0" y="779.1" width="12.4" height="25" fill="#e47a2a"/>
<rect x="1275.7" y="779.1" width="12.4" height="25" fill="#000000"/>
<rect x="1296.3" y="779.1" width="12.4" height="25" fill="#000000"/>
<rect x="1317.3" y="779.1" width="12.4" height="25" fill="#b8862e"/>
</g>
<text x="1202.0" y="741.1" font-family="Liberation Mono" font-size="54.5" fill="#3a98d8">33</text>
<text x="1327.5" y="741.1" font-family="Liberation Mono" font-size="54.5" fill="#3a98d8">Ω</text>
<ellipse cx="1281.8" cy="722.5" rx="9.9" ry="15.6" fill="none" stroke="#3a98d8" stroke-width="4.9"/>
<g>
<line x1="1136" y1="916.6" x2="1217.0" y2="916.6" stroke="#000" stroke-width="12.4" stroke-linecap="round"/>
<line x1="1366.0" y1="916.6" x2="1448" y2="916.6" stroke="#000" stroke-width="12.4" stroke-linecap="round"/>
<rect x="1229.0" y="902.1" width="126.0" height="29" fill="#e0b47f"/>
<circle cx="1230.5" cy="916.6" r="16.4" fill="#e0b47f"/><circle cx="1354.5" cy="916.6" r="16.4" fill="#e0b47f"/>
<rect x="1234.0" y="904.1" width="12.4" height="25" fill="#e47a2a"/>
<rect x="1255.0" y="904.1" width="12.4" height="25" fill="#e47a2a"/>
<rect x="1275.7" y="904.1" width="12.4" height="25" fill="#000000"/>
<rect x="1296.3" y="904.1" width="12.4" height="25" fill="#000000"/>
<rect x="1317.3" y="904.1" width="12.4" height="25" fill="#b8862e"/>
</g>
<text x="1202.0" y="866.1" font-family="Liberation Mono" font-size="54.5" fill="#3a98d8">33</text>
<text x="1327.5" y="866.1" font-family="Liberation Mono" font-size="54.5" fill="#3a98d8">Ω</text>
<ellipse cx="1281.8" cy="847.5" rx="9.9" ry="15.6" fill="none" stroke="#3a98d8" stroke-width="4.9"/>
<g>
<line x1="1136" y1="1041.6" x2="1217.0" y2="1041.6" stroke="#000" stroke-width="12.4" stroke-linecap="round"/>
<line x1="1366.0" y1="1041.6" x2="1448" y2="1041.6" stroke="#000" stroke-width="12.4" stroke-linecap="round"/>
<rect x="1229.0" y="1027.1" width="126.0" height="29" fill="#e0b47f"/>
<circle cx="1230.5" cy="1041.6" r="16.4" fill="#e0b47f"/><circle cx="1354.5" cy="1041.6" r="16.4" fill="#e0b47f"/>
<rect x="1234.0" y="1029.1" width="12.4" height="25" fill="#e47a2a"/>
<rect x="1255.0" y="1029.1" width="12.4" height="25" fill="#e47a2a"/>
<rect x="1275.7" y="1029.1" width="12.4" height="25" fill="#000000"/>
<rect x="1296.3" y="1029.1" width="12.4" height="25" fill="#000000"/>
<rect x="1317.3" y="1029.1" width="12.4" height="25" fill="#b8862e"/>
</g>
<text x="1202.0" y="991.1" font-family="Liberation Mono" font-size="54.5" fill="#3a98d8">33</text>
<text x="1327.5" y="991.1" font-family="Liberation Mono" font-size="54.5" fill="#3a98d8">Ω</text>
<ellipse cx="1281.8" cy="972.5" rx="9.9" ry="15.6" fill="none" stroke="#3a98d8" stroke-width="4.9"/>
<g>
<line x1="1136" y1="1166.6" x2="1217.0" y2="1166.6" stroke="#000" stroke-width="12.4" stroke-linecap="round"/>
<line x1="1366.0" y1="1166.6" x2="1448" y2="1166.6" stroke="#000" stroke-width="12.4" stroke-linecap="round"/>
<rect x="1229.0" y="1152.1" width="126.0" height="29" fill="#e0b47f"/>
<circle cx="1230.5" cy="1166.6" r="16.4" fill="#e0b47f"/><circle cx="1354.5" cy="1166.6" r="16.4" fill="#e0b47f"/>
<rect x="1234.0" y="1154.1" width="12.4" height="25" fill="#e47a2a"/>
<rect x="1255.0" y="1154.1" width="12.4" height="25" fill="#e47a2a"/>
<rect x="1275.7" y="1154.1" width="12.4" height="25" fill="#000000"/>
<rect x="1296.3" y="1154.1" width="12.4" height="25" fill="#000000"/>
<rect x="1317.3" y="1154.1" width="12.4" height="25" fill="#b8862e"/>
</g>
<text x="1202.0" y="1116.1" font-family="Liberation Mono" font-size="54.5" fill="#3a98d8">33</text>
<text x="1327.5" y="1116.1" font-family="Liberation Mono" font-size="54.5" fill="#3a98d8">Ω</text>
<ellipse cx="1281.8" cy="1097.5" rx="9.9" ry="15.6" fill="none" stroke="#3a98d8" stroke-width="4.9"/>
<g>
<line x1="1136" y1="1291.6" x2="1210.0" y2="1291.6" stroke="#000" stroke-width="12.4" stroke-linecap="round"/>
<line x1="1359.0" y1="1291.6" x2="1448" y2="1291.6" stroke="#000" stroke-width="12.4" stroke-linecap="round"/>
<rect x="1222.0" y="1277.1" width="126.0" height="29" fill="#e0b47f"/>
<circle cx="1223.5" cy="1291.6" r="16.4" fill="#e0b47f"/><circle cx="1347.5" cy="1291.6" r="16.4" fill="#e0b47f"/>
<rect x="1227.0" y="1279.1" width="12.4" height="25" fill="#e47a2a"/>
<rect x="1248.0" y="1279.1" width="12.4" height="25" fill="#e47a2a"/>
<rect x="1268.7" y="1279.1" width="12.4" height="25" fill="#000000"/>
<rect x="1289.3" y="1279.1" width="12.4" height="25" fill="#000000"/>
<rect x="1310.3" y="1279.1" width="12.4" height="25" fill="#b8862e"/>
</g>
<text x="1195.0" y="1241.1" font-family="Liberation Mono" font-size="54.5" fill="#3a98d8">33</text>
<text x="1320.5" y="1241.1" font-family="Liberation Mono" font-size="54.5" fill="#3a98d8">Ω</text>
<ellipse cx="1274.8" cy="1222.5" rx="9.9" ry="15.6" fill="none" stroke="#3a98d8" stroke-width="4.9"/>
<g>
<line x1="1136" y1="1416.6" x2="1217.0" y2="1416.6" stroke="#000" stroke-width="12.4" stroke-linecap="round"/>
<line x1="1366.0" y1="1416.6" x2="1448" y2="1416.6" stroke="#000" stroke-width="12.4" stroke-linecap="round"/>
<rect x="1229.0" y="1402.1" width="126.0" height="29" fill="#e0b47f"/>
<circle cx="1230.5" cy="1416.6" r="16.4" fill="#e0b47f"/><circle cx="1354.5" cy="1416.6" r="16.4" fill="#e0b47f"/>
<rect x="1234.0" y="1404.1" width="12.4" height="25" fill="#e47a2a"/>
<rect x="1255.0" y="1404.1" width="12.4" height="25" fill="#e47a2a"/>
<rect x="1275.7" y="1404.1" width="12.4" height="25" fill="#000000"/>
<rect x="1296.3" y="1404.1" width="12.4" height="25" fill="#000000"/>
<rect x="1317.3" y="1404.1" width="12.4" height="25" fill="#b8862e"/>
</g>
<text x="1202.0" y="1366.1" font-family="Liberation Mono" font-size="54.5" fill="#3a98d8">33</text>
<text x="1327.5" y="1366.1" font-family="Liberation Mono" font-size="54.5" fill="#3a98d8">Ω</text>
<ellipse cx="1281.8" cy="1347.5" rx="9.9" ry="15.6" fill="none" stroke="#3a98d8" stroke-width="4.9"/>
<rect x="667" y="2573.6" width="1062.6" height="437.2" fill="#12718f"/>
<circle cx="760.7" cy="2604.6" r="21.8" fill="#9c8f6c"/>
<circle cx="760.7" cy="2604.6" r="16.8" fill="#808080"/>
<circle cx="760.7" cy="2979.7" r="21.8" fill="#9c8f6c"/>
<circle cx="760.7" cy="2979.7" r="16.8" fill="#808080"/>
<circle cx="823.2" cy="2604.6" r="21.8" fill="#9c8f6c"/>
<circle cx="823.2" cy="2604.6" r="16.8" fill="#808080"/>
<circle cx="823.2" cy="2979.7" r="21.8" fill="#9c8f6c"/>
<circle cx="823.2" cy="2979.7" r="16.8" fill="#808080"/>
<circle cx="885.7" cy="2604.6" r="21.8" fill="#9c8f6c"/>
<circle cx="885.7" cy="2604.6" r="16.8" fill="#808080"/>
<circle cx="885.7" cy="2979.7" r="21.8" fill="#9c8f6c"/>
<circle cx="885.7" cy="2979.7" r="16.8" fill="#808080"/>
<circle cx="948.3" cy="2604.6" r="21.8" fill="#9c8f6c"/>
<circle cx="948.3" cy="2604.6" r="16.8" fill="#808080"/>
<circle cx="948.3" cy="2979.7" r="21.8" fill="#9c8f6c"/>
<circle cx="948.3" cy="2979.7" r="16.8" fill="#808080"/>
<circle cx="1010.8" cy="2604.6" r="21.8" fill="#9c8f6c"/>
<circle cx="1010.8" cy="2604.6" r="16.8" fill="#808080"/>
<circle cx="1010.8" cy="2979.7" r="21.8" fill="#9c8f6c"/>
<circle cx="1010.8" cy="2979.7" r="16.8" fill="#808080"/>
<circle cx="1073.3" cy="2604.6" r="21.8" fill="#9c8f6c"/>
<circle cx="1073.3" cy="2604.6" r="16.8" fill="#808080"/>
<circle cx="1073.3" cy="2979.7" r="21.8" fill="#9c8f6c"/>
<circle cx="1073.3" cy="2979.7" r="16.8" fill="#808080"/>
<circle cx="1135.8" cy="2604.6" r="21.8" fill="#9c8f6c"/>
<circle cx="1135.8" cy="2604.6" r="16.8" fill="#808080"/>
<circle cx="1135.8" cy="2979.7" r="21.8" fill="#9c8f6c"/>
<circle cx="1135.8" cy="2979.7" r="16.8" fill="#808080"/>
<circle cx="1198.3" cy="2604.6" r="21.8" fill="#9c8f6c"/>
<circle cx="1198.3" cy="2604.6" r="16.8" fill="#808080"/>
<circle cx="1198.3" cy="2979.7" r="21.8" fill="#9c8f6c"/>
<circle cx="1198.3" cy="2979.7" r="16.8" fill="#808080"/>
<circle cx="1260.9" cy="2604.6" r="21.8" fill="#9c8f6c"/>
<circle cx="1260.9" cy="2604.6" r="16.8" fill="#808080"/>
<circle cx="1260.9" cy="2979.7" r="21.8" fill="#9c8f6c"/>
<circle cx="1260.9" cy="2979.7" r="16.8" fill="#808080"/>
<circle cx="1323.4" cy="2604.6" r="21.8" fill="#9c8f6c"/>
<circle cx="1323.4" cy="2604.6" r="16.8" fill="#808080"/>
<circle cx="1323.4" cy="2979.7" r="21.8" fill="#9c8f6c"/>
<circle cx="1323.4" cy="2979.7" r="16.8" fill="#808080"/>
<circle cx="1385.9" cy="2604.6" r="21.8" fill="#9c8f6c"/>
<circle cx="1385.9" cy="2604.6" r="16.8" fill="#808080"/>
<circle cx="1385.9" cy="2979.7" r="21.8" fill="#9c8f6c"/>
<circle cx="1385.9" cy="2979.7" r="16.8" fill="#808080"/>
<circle cx="1448.4" cy="2604.6" r="21.8" fill="#9c8f6c"/>
<circle cx="1448.4" cy="2604.6" r="16.8" fill="#808080"/>
<circle cx="1448.4" cy="2979.7" r="21.8" fill="#9c8f6c"/>
<circle cx="1448.4" cy="2979.7" r="16.8" fill="#808080"/>
<circle cx="1510.9" cy="2604.6" r="21.8" fill="#9c8f6c"/>
<circle cx="1510.9" cy="2604.6" r="16.8" fill="#808080"/>
<circle cx="1510.9" cy="2979.7" r="21.8" fill="#9c8f6c"/>
<circle cx="1510.9" cy="2979.7" r="16.8" fill="#808080"/>
<circle cx="1573.5" cy="2604.6" r="21.8" fill="#9c8f6c"/>
<circle cx="1573.5" cy="2604.6" r="16.8" fill="#808080"/>
<circle cx="1573.5" cy="2979.7" r="21.8" fill="#9c8f6c"/>
<circle cx="1573.5" cy="2979.7" r="16.8" fill="#808080"/>
<rect x="1614" y="2583" width="43.6" height="43.5" fill="#9c8f6c"/>
<circle cx="1636.0" cy="2604.6" r="16.8" fill="#808080"/>
<circle cx="1636.0" cy="2979.7" r="21.8" fill="#9c8f6c"/>
<circle cx="1636.0" cy="2979.7" r="16.8" fill="#808080"/>
<circle cx="698.3" cy="2604.6" r="20.3" fill="#ffffff"/>
<circle cx="1698.3" cy="2604.6" r="20.3" fill="#ffffff"/>
<circle cx="698.3" cy="2979.7" r="20.3" fill="#ffffff"/>
<circle cx="1698.3" cy="2979.7" r="20.3" fill="#ffffff"/>
<g font-family="Liberation Sans" fill="#ffffff" font-size="24" text-anchor="middle">
<text x="760.7" y="2653.5">D12</text>
<text x="760.7" y="2951.4">D13</text>
<text x="823.2" y="2653.5">D11</text>
<text x="823.2" y="2951.4">3V3</text>
<text x="885.7" y="2653.5">D10</text>
<text x="885.7" y="2951.4">REF</text>
<text x="948.3" y="2653.5">D9</text>
<text x="948.3" y="2951.4">A0</text>
<text x="1010.8" y="2653.5">D8</text>
<text x="1010.8" y="2951.4">A1</text>
<text x="1073.3" y="2653.5">D7</text>
<text x="1073.3" y="2951.4">A2</text>
<text x="1135.8" y="2653.5">D6</text>
<text x="1135.8" y="2951.4">A3</text>
<text x="1198.3" y="2653.5">D5</text>
<text x="1198.3" y="2951.4">A4</text>
<text x="1260.9" y="2653.5">D4</text>
<text x="1260.9" y="2951.4">A5</text>
<text x="1323.4" y="2653.5">D3</text>
<text x="1323.4" y="2951.4">A6</text>
<text x="1385.9" y="2653.5">D2</text>
<text x="1385.9" y="2951.4">A7</text>
<text x="1448.4" y="2653.5">GND</text>
<text x="1448.4" y="2951.4">5V</text>
<text x="1510.9" y="2653.5">RST</text>
<text x="1510.9" y="2951.4">RST</text>
<text x="1573.5" y="2653.5">RX0</text>
<text x="1573.5" y="2951.4">GND</text>
<text x="1636.0" y="2653.5">TX1</text>
<text x="1636.0" y="2951.4">VIN</text>
<text x="803.2" y="2637" font-size="16">*</text>
<text x="865.7" y="2637" font-size="16">*</text>
<text x="928.3" y="2637" font-size="16">*</text>
<text x="1115.8" y="2637" font-size="16">*</text>
<text x="1178.3" y="2637" font-size="16">*</text>
<text x="1303.4" y="2637" font-size="16">*</text>
</g>
<g fill="#c8c8c8">
<rect x="675" y="2659.6" width="62" height="50"/><rect x="811.2" y="2659.6" width="61.4" height="50"/>
<rect x="675" y="2876" width="62" height="48.6"/><rect x="811.2" y="2876" width="61.4" height="48.6"/>
</g>
<rect x="628.7" y="2698" width="219.2" height="188.4" fill="#e6e6e6"/>
<path d="M628.7 2698 L847.9 2698 L847.9 2713 L628.7 2703 Z" fill="#f2f2f2"/>
<path d="M628.7 2886.4 L847.9 2886.4 L847.9 2875 L628.7 2881 Z" fill="#f2f2f2"/>
<g fill="#333333">
<rect x="675.5" y="2716" width="62" height="10.5" rx="3"/>
<path d="M650 2740 L660 2730 L670 2738 L737.5 2738 L737.5 2749 L650 2749 Z"/>
<path d="M650 2764 L762 2769 L762 2814 L650 2820 L650 2815 L740 2810 L740 2774 L650 2770 Z"/>
<path d="M650 2833 L737.5 2833 L737.5 2842 L670 2842 L660 2851 L650 2841 Z"/>
<rect x="675.5" y="2855" width="62" height="10.5" rx="3"/>
<rect x="806" y="2730" width="12" height="118.5" rx="2"/>
<rect x="842" y="2751" width="6" height="81.4"/>
</g>
<g fill="#6b6b6b">
<rect x="847.9" y="2746.0" width="22.7" height="10.6"/>
<rect x="847.9" y="2766.0" width="22.7" height="10.6"/>
<rect x="847.9" y="2786.6" width="22.7" height="10.6"/>
<rect x="847.9" y="2807.0" width="22.7" height="10.6"/>
<rect x="847.9" y="2827.5" width="22.7" height="10.6"/>
</g>
<text transform="translate(887 2717.3) rotate(90)" text-anchor="middle" font-family="Liberation Sans" fill="#ffffff" font-size="30">USA</text>
<text transform="translate(887 2867) rotate(90)" text-anchor="middle" font-family="Liberation Sans" fill="#ffffff" font-size="30">2009</text>
<path d="M1046.5 2683.8 L1165 2800 L1050 2917.4 L931.6 2799 Z" fill="#1c1c1c"/>
<rect x="1229.7" y="2755.7" width="62.6" height="95.3" fill="#c8c8c8"/>
<circle cx="1261" cy="2803.5" r="19.7" fill="#333333"/>
<text transform="translate(1306 2802.7) rotate(90)" text-anchor="middle" font-family="Liberation Sans" fill="#ffffff" font-size="26">RST</text>
<rect x="1370.6" y="2660.0" width="64" height="32.7" fill="#d6c89a"/>
<rect x="1379.6" y="2660.0" width="46" height="32.7" fill="#f0f0f0"/>
<rect x="1370.6" y="2725.0" width="64" height="32.7" fill="#d6c89a"/>
<rect x="1379.6" y="2725.0" width="46" height="32.7" fill="#f0f0f0"/>
<rect x="1370.6" y="2809.8" width="64" height="32.7" fill="#d6c89a"/>
<rect x="1379.6" y="2809.8" width="46" height="32.7" fill="#f0f0f0"/>
<rect x="1370.6" y="2893.8" width="64" height="32.7" fill="#d6c89a"/>
<rect x="1379.6" y="2893.8" width="46" height="32.7" fill="#f0f0f0"/>
<text transform="translate(1440 2674.0) rotate(90)" text-anchor="middle" font-family="Liberation Sans" fill="#ffffff" font-size="26">TX</text>
<text transform="translate(1440 2741.0) rotate(90)" text-anchor="middle" font-family="Liberation Sans" fill="#ffffff" font-size="26">RX</text>
<text transform="translate(1440 2827.0) rotate(90)" text-anchor="middle" font-family="Liberation Sans" fill="#ffffff" font-size="26">PWR</text>
<text transform="translate(1440 2912.0) rotate(90)" text-anchor="middle" font-family="Liberation Sans" fill="#ffffff" font-size="26">L</text>
<text x="1309" y="2716.8" text-anchor="middle" font-family="Liberation Sans" fill="#ffffff" font-size="26" textLength="148.6" lengthAdjust="spacingAndGlyphs">ARDUINO.CC</text>
<text transform="translate(1568 2776) rotate(90)" text-anchor="middle" font-family="Liberation Sans" fill="#ffffff" font-size="31">ARDUINO</text>
<text transform="translate(1534 2785) rotate(90)" text-anchor="middle" font-family="Liberation Sans" fill="#ffffff" font-size="31">NANO</text>
<text transform="translate(1500 2778) rotate(90)" text-anchor="middle" font-family="Liberation Sans" fill="#ffffff" font-size="31">V3.0</text>
<g fill="#404040">
<path d="M1614.0 2699.8 L1715.0 2699.8 L1726.6 2710.8 L1726.6 2748.8 L1715.0 2759.8 L1614.0 2759.8 L1602.7 2748.8 L1602.7 2710.8 Z"/>
<path d="M1614.0 2762.0 L1715.0 2762.0 L1726.6 2773.0 L1726.6 2811.0 L1715.0 2822.0 L1614.0 2822.0 L1602.7 2811.0 L1602.7 2773.0 Z"/>
<path d="M1614.0 2824.0 L1715.0 2824.0 L1726.6 2835.0 L1726.6 2873.0 L1715.0 2884.0 L1614.0 2884.0 L1602.7 2873.0 L1602.7 2835.0 Z"/>
</g>
<circle cx="1633.6" cy="2730.0" r="16.7" fill="#808080"/>
<circle cx="1695.8" cy="2730.0" r="16.7" fill="#808080"/>
<circle cx="1633.6" cy="2792.0" r="16.7" fill="#808080"/>
<circle cx="1695.8" cy="2792.0" r="16.7" fill="#808080"/>
<circle cx="1633.6" cy="2854.6" r="16.7" fill="#808080"/>
<circle cx="1695.8" cy="2854.6" r="16.7" fill="#808080"/>
<text x="1686" y="2692" text-anchor="middle" font-family="Liberation Sans" fill="#ffffff" font-size="24">ICSP</text>
<path d="M1564.6 2660 L1587.4 2660 L1576 2677.6 Z" fill="#fff"/>
<path d="M1624.2 2677.6 L1647 2677.6 L1635.6 2660 Z" fill="#fff"/>
<text transform="translate(1686 2907) rotate(90)" text-anchor="middle" font-family="Liberation Sans" fill="#ffffff" font-size="30">1</text>
<rect x="760.9" y="3308.2" width="437.4" height="436.4" fill="#c4241a"/>
<path d="M792.0 3339.0 L810.0 3321.0 L836.5 3321.0 L854.5 3339.0 L872.5 3321.0 L899.0 3321.0 L917.0 3339.0 L935.0 3321.0 L961.5 3321.0 L979.5 3339.0 L997.5 3321.0 L1024.0 3321.0 L1042.0 3339.0 L1060.0 3321.0 L1086.5 3321.0 L1104.5 3339.0 L1122.6 3321.0 L1149.1 3321.0 L1167.1 3339.0 L1167.1 3369.8 L1149.1 3387.8 L1122.6 3387.8 L1104.6 3369.8 L1086.5 3387.8 L1060.0 3387.8 L1042.0 3369.8 L1024.0 3387.8 L997.5 3387.8 L979.5 3369.8 L961.5 3387.8 L935.0 3387.8 L917.0 3369.8 L899.0 3387.8 L872.5 3387.8 L854.5 3369.8 L836.5 3387.8 L810.0 3387.8 L792.0 3369.8 Z" fill="none" stroke="#fff" stroke-width="3.6"/>
<circle cx="823.2" cy="3354.4" r="22.7" fill="#9c8f6c"/><circle cx="823.2" cy="3354.4" r="16.6" fill="#808080"/>
<circle cx="885.7" cy="3354.4" r="22.7" fill="#9c8f6c"/><circle cx="885.7" cy="3354.4" r="16.6" fill="#808080"/>
<circle cx="948.2" cy="3354.4" r="22.7" fill="#9c8f6c"/><circle cx="948.2" cy="3354.4" r="16.6" fill="#808080"/>
<circle cx="1010.8" cy="3354.4" r="22.7" fill="#9c8f6c"/><circle cx="1010.8" cy="3354.4" r="16.6" fill="#808080"/>
<circle cx="1073.3" cy="3354.4" r="22.7" fill="#9c8f6c"/><circle cx="1073.3" cy="3354.4" r="16.6" fill="#808080"/>
<circle cx="1135.8" cy="3354.4" r="22.7" fill="#9c8f6c"/><circle cx="1135.8" cy="3354.4" r="16.6" fill="#808080"/>
<text transform="translate(812.4 3394) rotate(90)" x="0" y="0" font-family="Liberation Sans" fill="#ffffff" font-size="30">VCC</text>
<text transform="translate(874.9 3394) rotate(90)" x="0" y="0" font-family="Liberation Sans" fill="#ffffff" font-size="30">GND</text>
<text transform="translate(937.4 3394) rotate(90)" x="0" y="0" font-family="Liberation Sans" fill="#ffffff" font-size="30">X</text>
<text transform="translate(1000.0 3394) rotate(90)" x="0" y="0" font-family="Liberation Sans" fill="#ffffff" font-size="30">Y</text>
<text transform="translate(1062.5 3394) rotate(90)" x="0" y="0" font-family="Liberation Sans" fill="#ffffff" font-size="30">Z</text>
<text transform="translate(1125.0 3394) rotate(90)" x="0" y="0" font-family="Liberation Sans" fill="#ffffff" font-size="30">ST</text>
<circle cx="948.2" cy="3436.3" r="5" fill="#fff"/>
<circle cx="1010.7" cy="3436.3" r="5" fill="#fff"/>
<circle cx="885.7" cy="3558.0" r="5" fill="#fff"/>
<circle cx="1073.3" cy="3527.0" r="5" fill="#fff"/>
<rect x="930.3" y="3477.9" width="98.7" height="97.8" fill="#333333"/>
<g stroke="#fff" stroke-width="3" fill="none">
<path d="M928 3490 L928 3476 L942 3476"/><path d="M1016 3476 L1031 3476 L1031 3490"/>
<path d="M1031 3564 L1031 3578 L1016 3578"/><path d="M942 3578 L928 3578 L928 3564"/>
</g>
<text transform="translate(1143 3575) rotate(90)" text-anchor="middle" font-family="Liberation Sans" fill="#ffffff" font-size="38">ADXL335</text>
<g stroke="#fff" stroke-width="5.5" fill="none" stroke-linecap="round">
<line x1="820.2" y1="3643" x2="820.2" y2="3530"/><path d="M803 3547 L820.2 3529 L837 3547"/>
<line x1="870" y1="3685.8" x2="976" y2="3685.8"/><path d="M959 3668.5 L977 3685.8 L959 3703"/>
</g>
<circle cx="835.8" cy="3673.3" r="22" fill="none" stroke="#fff" stroke-width="9"/><circle cx="835.8" cy="3673.3" r="10.6" fill="#fff"/>
<text transform="translate(763 3581) rotate(90)" text-anchor="middle" font-family="Liberation Sans" fill="#ffffff" font-size="52">Y</text>
<text transform="translate(776.5 3710.5) rotate(90)" text-anchor="middle" font-family="Liberation Sans" fill="#ffffff" font-size="52">Z</text>
<text transform="translate(904 3715) rotate(90)" text-anchor="middle" font-family="Liberation Sans" fill="#ffffff" font-size="52">X</text>
<rect x="2100.9" y="3228.1" width="492.1" height="492.1" fill="#c4241a"/>
<path d="M2120.6 3260.9 L2150.8 3260.9 L2168.8 3278.9 L2168.8 3305.3 L2150.8 3323.3 L2168.8 3341.3 L2168.8 3367.7 L2150.8 3385.7 L2168.8 3403.8 L2168.8 3430.2 L2150.8 3448.2 L2168.8 3466.2 L2168.8 3492.6 L2150.8 3510.6 L2168.8 3528.6 L2168.8 3555.0 L2150.8 3573.0 L2120.6 3573.0 L2102.6 3555.0 L2102.6 3528.6 L2120.6 3510.6 L2102.6 3492.6 L2102.6 3466.2 L2120.6 3448.2 L2102.6 3430.2 L2102.6 3403.8 L2120.6 3385.8 L2102.6 3367.7 L2102.6 3341.3 L2120.6 3323.3 L2102.6 3305.3 L2102.6 3278.9 Z" fill="none" stroke="#fff" stroke-width="3.6"/>
<circle cx="2135.7" cy="3292.1" r="22.8" fill="#9c8f6c"/><circle cx="2135.7" cy="3292.1" r="17.3" fill="#808080"/>
<circle cx="2135.7" cy="3354.5" r="22.8" fill="#9c8f6c"/><circle cx="2135.7" cy="3354.5" r="17.3" fill="#808080"/>
<circle cx="2135.7" cy="3417.0" r="22.8" fill="#9c8f6c"/><circle cx="2135.7" cy="3417.0" r="17.3" fill="#808080"/>
<circle cx="2135.7" cy="3479.4" r="22.8" fill="#9c8f6c"/><circle cx="2135.7" cy="3479.4" r="17.3" fill="#808080"/>
<circle cx="2135.7" cy="3541.8" r="22.8" fill="#9c8f6c"/><circle cx="2135.7" cy="3541.8" r="17.3" fill="#808080"/>
<text x="2170" y="3306.3" font-family="Liberation Sans" font-weight="bold" fill="#ffffff" font-size="41">SDA</text>
<text x="2170" y="3368.7" font-family="Liberation Sans" font-weight="bold" fill="#ffffff" font-size="41">SCL</text>
<text x="2170" y="3431.2" font-family="Liberation Sans" font-weight="bold" fill="#ffffff" font-size="41">SQW</text>
<text x="2170" y="3493.6" font-family="Liberation Sans" font-weight="bold" fill="#ffffff" font-size="41">GND</text>
<text x="2170" y="3556.0" font-family="Liberation Sans" font-weight="bold" fill="#ffffff" font-size="41">5V</text>
<circle cx="2543.5" cy="3276.8" r="38" fill="#fff"/><circle cx="2149.6" cy="3670.7" r="38" fill="#fff"/>
<rect x="2342.2" y="3245.4" width="76" height="76" fill="#8c8c8c"/><rect x="2342.2" y="3619" width="76" height="76.7" fill="#8c8c8c"/>
<g stroke="#8c8c8c" stroke-width="16" stroke-linecap="round">
<line x1="2323" y1="3360.3" x2="2362" y2="3360.3"/><line x1="2458" y1="3360.3" x2="2494.5" y2="3360.3"/>
<line x1="2323" y1="3395.7" x2="2362" y2="3395.7"/><line x1="2458" y1="3395.7" x2="2494.5" y2="3395.7"/>
<line x1="2323" y1="3430.7" x2="2362" y2="3430.7"/><line x1="2458" y1="3430.7" x2="2494.5" y2="3430.7"/>
<line x1="2323" y1="3466.0" x2="2362" y2="3466.0"/><line x1="2458" y1="3466.0" x2="2494.5" y2="3466.0"/>
</g>
<path d="M2362 3338.9 L2458 3338.9 L2458 3487.5 L2427.5 3487.5 A17.5 17.5 0 0 0 2392.5 3487.5 L2362 3487.5 Z" fill="#1e1e1e"/>
<rect x="2239.2" y="3522.3" width="147" height="59.3" fill="#1e1e1e"/>
<rect x="2409.3" y="3508.4" width="60.4" height="24.5" fill="#8c8c8c"/><rect x="2409.3" y="3571" width="60.4" height="24.5" fill="#8c8c8c"/>
<rect x="2230.3" y="3647.9" width="18.7" height="16.7" fill="#1e1e1e"/><rect x="2230.3" y="3681.8" width="18.7" height="17.2" fill="#1e1e1e"/>
<rect x="2230.3" y="3670" width="18.7" height="6" rx="3" fill="#bbbbbb"/>
<text transform="translate(2527 3455.6) rotate(90)" text-anchor="middle" font-family="Liberation Sans" font-weight="bold" fill="#ffffff" font-size="44" textLength="229.6" lengthAdjust="spacingAndGlyphs">RTC Module</text>
<path d="M2485 3657 C2500 3652 2525 3655 2535 3662 C2525 3668 2527 3676 2535 3676 C2540 3676 2540 3670 2545 3668 C2556 3676 2555 3690 2550 3695 C2548 3690 2545 3688 2541 3690 C2545 3700 2535 3705 2525 3703 C2510 3700 2505 3690 2510 3680 Z" fill="#fff"/>
<path d="M3073.8 3339 L3073.8 3317 L3110 3317" fill="none" stroke="#9a9a9a" stroke-width="19" stroke-linejoin="round"/>
<path d="M3266.4 3339 L3266.4 3317 L3230 3317" fill="none" stroke="#9a9a9a" stroke-width="19" stroke-linejoin="round"/>
<path d="M3073.8 3339 L3073.8 3317 L3110 3317" fill="none" stroke="#8c8c8c" stroke-width="15" stroke-linejoin="round"/>
<path d="M3266.4 3339 L3266.4 3317 L3230 3317" fill="none" stroke="#8c8c8c" stroke-width="15" stroke-linejoin="round"/>
<g stroke="#000" stroke-width="11.7" stroke-linecap="round"><line x1="3073.8" y1="3316" x2="3073.8" y2="3345"/><line x1="3266.4" y1="3316" x2="3266.4" y2="3345"/></g>
<path d="M3128 3269.8 L3212 3269.8 C3242 3300 3242 3335 3212 3364.5 L3128 3364.5 C3098 3335 3098 3300 3128 3269.8 Z" fill="#000"/>
<path d="M3127.4 3274.8 Q3170 3272 3212.8 3274.8 Q3210 3317 3212.8 3360.2 Q3170 3357 3127.4 3360.2 Q3130 3317 3127.4 3274.8 Z" fill="#a8a8a8" stroke="#bdbdbd" stroke-width="2"/>
<circle cx="3168.3" cy="3317.5" r="37" fill="#d0d0d0"/>
<path d="M3131.7 3279 Q3170 3275 3208.5 3279 Q3206 3317 3208.5 3356 Q3170 3352 3131.7 3356 Q3134 3317 3131.7 3279 Z" fill="none" stroke="#8b0000" stroke-width="3.6" opacity="0.9"/>
<path d="M3147.8 3282 L3149 3288 L3190 3290 Q3194 3294 3191 3299 L3163 3300.8 L3163 3308.2 L3177 3308.2 L3177.5 3317 L3163 3318 L3163 3325.5 L3177 3326 L3177 3335 L3149 3336.5 Q3146 3340 3149 3344 L3192 3345 L3193.5 3352.8" fill="none" stroke="#8b0000" stroke-width="3.7" stroke-linejoin="round" stroke-linecap="round"/>
<circle cx="3154" cy="3299.5" r="10" fill="#ffffff" opacity="0.75"/>
<circle cx="3120" cy="3317.5" r="11.8" fill="#727272"/><circle cx="3220.3" cy="3317.5" r="11.8" fill="#727272"/>
<path d="M885.8 729.1 L972.8 729.1 A38.0 38.0 0 0 0 1010.8 691.1 L1010.8 579.6 A38.0 38.0 0 0 1 1048.8 541.6 L1136.3 541.6" fill="none" stroke="#001245" stroke-width="14.3" stroke-linecap="round" stroke-linejoin="round"/>
<circle cx="885.8" cy="729.1" r="16.6" fill="#001245"/>
<circle cx="1136.3" cy="541.6" r="16.6" fill="#001245"/>
<path d="M885.8 791.6 L1003.8 791.6 A38.0 38.0 0 0 0 1041.8 753.6 L1041.8 704.6 A38.0 38.0 0 0 1 1079.8 666.6 L1136.3 666.6" fill="none" stroke="#ff9680" stroke-width="14.3" stroke-linecap="round" stroke-linejoin="round"/>
<circle cx="885.8" cy="791.6" r="16.6" fill="#ff9680"/>
<circle cx="1136.3" cy="666.6" r="16.6" fill="#ff9680"/>
<path d="M885.8 854.2 L1052.1 854.2 A20.7 20.7 0 0 0 1072.8 833.5 L1072.8 812.3 A20.7 20.7 0 0 1 1093.5 791.6 L1136.3 791.6" fill="none" stroke="#990033" stroke-width="14.3" stroke-linecap="round" stroke-linejoin="round"/>
<circle cx="885.8" cy="854.2" r="16.6" fill="#990033"/>
<circle cx="1136.3" cy="791.6" r="16.6" fill="#990033"/>
<path d="M885.8 916.7 L1136.3 916.6" fill="none" stroke="#005e38" stroke-width="14.3" stroke-linecap="round" stroke-linejoin="round"/>
<circle cx="885.8" cy="916.7" r="16.6" fill="#005e38"/>
<circle cx="1136.3" cy="916.6" r="16.6" fill="#005e38"/>
<path d="M885.8 979.3 L987.9 979.3 A20.6 20.6 0 0 1 1008.5 999.9 L1008.5 1021.0 A20.6 20.6 0 0 0 1029.1 1041.6 L1136.3 1041.6" fill="none" stroke="#00ffff" stroke-width="14.3" stroke-linecap="round" stroke-linejoin="round"/>
<circle cx="885.8" cy="979.3" r="16.6" fill="#00ffff"/>
<circle cx="1136.3" cy="1041.6" r="16.6" fill="#00ffff"/>
<path d="M885.8 1041.9 L942.0 1041.9 A38.0 38.0 0 0 1 980.0 1079.9 L980.0 1128.6 A38.0 38.0 0 0 0 1018.0 1166.6 L1136.3 1166.6" fill="none" stroke="#0e4c9f" stroke-width="14.3" stroke-linecap="round" stroke-linejoin="round"/>
<circle cx="885.8" cy="1041.9" r="16.6" fill="#0e4c9f"/>
<circle cx="1136.3" cy="1166.6" r="16.6" fill="#0e4c9f"/>
<path d="M885.8 1104.4 L885.8 1253.6 A38.0 38.0 0 0 0 923.8 1291.6 L1136.3 1291.6" fill="none" stroke="#990099" stroke-width="14.3" stroke-linecap="round" stroke-linejoin="round"/>
<circle cx="885.8" cy="1104.4" r="16.6" fill="#990099"/>
<circle cx="1136.3" cy="1291.6" r="16.6" fill="#990099"/>
<path d="M698.0 1041.9 L673.2 1041.9 A38.0 38.0 0 0 0 635.2 1079.9 L635.2 1378.6 A38.0 38.0 0 0 0 673.2 1416.6 L1136.3 1416.6" fill="none" stroke="#000066" stroke-width="14.3" stroke-linecap="round" stroke-linejoin="round"/>
<circle cx="698.0" cy="1041.9" r="16.6" fill="#000066"/>
<circle cx="1136.3" cy="1416.6" r="16.6" fill="#000066"/>
<path d="M698.0 916.7 L673.2 916.7 A38.0 38.0 0 0 1 635.2 878.7 L635.2 580.0 A38.0 38.0 0 0 1 673.2 542.0 L847.8 542.0 A38.0 38.0 0 0 1 885.8 580.0 L885.8 666.5" fill="none" stroke="#030502" stroke-width="14.3" stroke-linecap="round" stroke-linejoin="round"/>
<circle cx="698.0" cy="916.7" r="16.6" fill="#030502"/>
<path d="M760.7 2604.6 L760.7 1581.0 A38.0 38.0 0 0 1 798.7 1543.0 L2098.4 1543.0 A38.0 38.0 0 0 0 2136.4 1505.0 L2136.4 1392.4 A38.0 38.0 0 0 1 2174.4 1354.4 L2292.3 1354.4" fill="none" stroke="#96d2cc" stroke-width="14.3" stroke-linecap="round" stroke-linejoin="round"/>
<circle cx="760.7" cy="2604.6" r="16.6" fill="#96d2cc"/>
<circle cx="2292.3" cy="1354.4" r="16.6" fill="#96d2cc"/>
<path d="M885.7 2604.6 L885.7 1643.0 A38.0 38.0 0 0 1 923.7 1605.0 L2251.0 1605.0 A38.0 38.0 0 0 0 2289.0 1567.0 L2289.0 1510.3" fill="none" stroke="#6b8570" stroke-width="14.3" stroke-linecap="round" stroke-linejoin="round"/>
<circle cx="885.7" cy="2604.6" r="16.6" fill="#6b8570"/>
<circle cx="2289.0" cy="1510.3" r="16.6" fill="#6b8570"/>
<path d="M948.3 2604.6 L948.3 1736.8 A38.0 38.0 0 0 1 986.3 1698.8 L2257.0 1698.8 A32.0 32.0 0 0 0 2289.0 1666.8 L2289.0 1666.8" fill="none" stroke="#00ae7e" stroke-width="14.3" stroke-linecap="round" stroke-linejoin="round"/>
<circle cx="948.3" cy="2604.6" r="16.6" fill="#00ae7e"/>
<circle cx="2289.0" cy="1666.8" r="16.6" fill="#00ae7e"/>
<path d="M823.2 2604.6 L823.2 1860.0 A38.0 38.0 0 0 1 861.2 1822.0 L2259.4 1822.0 A29.6 29.6 0 0 0 2289.0 1792.4 L2289.0 1792.4" fill="none" stroke="#0077b6" stroke-width="14.3" stroke-linecap="round" stroke-linejoin="round"/>
<circle cx="823.2" cy="2604.6" r="16.6" fill="#0077b6"/>
<circle cx="2289.0" cy="1792.4" r="16.6" fill="#0077b6"/>
<path d="M1198.3 2604.6 L1198.3 1985.7 A38.0 38.0 0 0 1 1236.3 1947.7 L2292.3 1947.7" fill="none" stroke="#ff00a0" stroke-width="14.3" stroke-linecap="round" stroke-linejoin="round"/>
<circle cx="1198.3" cy="2604.6" r="16.6" fill="#ff00a0"/>
<circle cx="2292.3" cy="1947.7" r="16.6" fill="#ff00a0"/>
<path d="M1010.8 2604.6 L1010.8 2080.0 A38.0 38.0 0 0 1 1048.8 2042.0 L2251.0 2042.0 A38.0 38.0 0 0 1 2289.0 2080.0 L2289.0 2103.6" fill="none" stroke="#c38a9c" stroke-width="14.3" stroke-linecap="round" stroke-linejoin="round"/>
<circle cx="1010.8" cy="2604.6" r="16.6" fill="#c38a9c"/>
<circle cx="2289.0" cy="2103.6" r="16.6" fill="#c38a9c"/>
<path d="M1135.8 2604.6 L1135.8 2205.3 A38.0 38.0 0 0 1 1173.8 2167.3 L2251.0 2167.3 A38.0 38.0 0 0 1 2289.0 2205.3 L2289.0 2259.5" fill="none" stroke="#64ad50" stroke-width="14.3" stroke-linecap="round" stroke-linejoin="round"/>
<circle cx="1135.8" cy="2604.6" r="16.6" fill="#64ad50"/>
<circle cx="2289.0" cy="2259.5" r="16.6" fill="#64ad50"/>
<path d="M1073.3 2604.6 L1073.3 2329.2 A38.0 38.0 0 0 1 1111.3 2291.2 L2066.0 2291.2 A38.0 38.0 0 0 1 2104.0 2329.2 L2104.0 2376.8 A38.0 38.0 0 0 0 2142.0 2414.8 L2292.3 2414.8" fill="none" stroke="#008e9e" stroke-width="14.3" stroke-linecap="round" stroke-linejoin="round"/>
<circle cx="1073.3" cy="2604.6" r="16.6" fill="#008e9e"/>
<circle cx="2292.3" cy="2414.8" r="16.6" fill="#008e9e"/>
<path d="M698.0 979.3 L455.0 979.3 A38.0 38.0 0 0 0 417.0 1017.3 L417.0 2441.5 A38.0 38.0 0 0 0 455.0 2479.5 L1222.9 2479.5 A38.0 38.0 0 0 1 1260.9 2517.5 L1260.9 2604.6" fill="none" stroke="#0a7a3e" stroke-width="14.3" stroke-linecap="round" stroke-linejoin="round"/>
<circle cx="698.0" cy="979.3" r="16.6" fill="#0a7a3e"/>
<circle cx="1260.9" cy="2604.6" r="16.6" fill="#0a7a3e"/>
<path d="M698.0 854.2 L517.0 854.2 A38.0 38.0 0 0 0 479.0 892.2 L479.0 2379.2 A38.0 38.0 0 0 0 517.0 2417.2 L1285.4 2417.2 A38.0 38.0 0 0 1 1323.4 2455.2 L1323.4 2604.6" fill="none" stroke="#7646b0" stroke-width="14.3" stroke-linecap="round" stroke-linejoin="round"/>
<circle cx="698.0" cy="854.2" r="16.6" fill="#7646b0"/>
<circle cx="1323.4" cy="2604.6" r="16.6" fill="#7646b0"/>
<path d="M698.0 791.6 L579.3 791.6 A38.0 38.0 0 0 0 541.3 829.6 L541.3 2316.6 A38.0 38.0 0 0 0 579.3 2354.6 L1347.9 2354.6 A38.0 38.0 0 0 1 1385.9 2392.6 L1385.9 2604.6" fill="none" stroke="#b8860b" stroke-width="14.3" stroke-linecap="round" stroke-linejoin="round"/>
<circle cx="698.0" cy="791.6" r="16.6" fill="#b8860b"/>
<circle cx="1385.9" cy="2604.6" r="16.6" fill="#b8860b"/>
<path d="M698.0 729.1 L641.2 729.1 A38.0 38.0 0 0 0 603.2 767.1 L603.2 1066.4 A38.0 38.0 0 0 0 641.2 1104.4 L698.0 1104.4" fill="none" stroke="#ff0000" stroke-width="14.3" stroke-linecap="round" stroke-linejoin="round"/>
<circle cx="698.0" cy="729.1" r="16.6" fill="#ff0000"/>
<circle cx="698.0" cy="1104.4" r="16.6" fill="#ff0000"/>
<path d="M698.0 1104.4 L698.0 1721.7 A38.0 38.0 0 0 0 736.0 1759.7 L1814.5 1759.7 A38.0 38.0 0 0 1 1852.5 1797.7 L1852.5 3128.8 A38.0 38.0 0 0 1 1814.5 3166.8 L1448.4 3166.8" fill="none" stroke="#ff0000" stroke-width="14.3" stroke-linecap="round" stroke-linejoin="round"/>
<path d="M1448.4 541.6 L3473.0 541.6 A38.0 38.0 0 0 1 3511.0 579.6 L3511.0 1166.7" fill="none" stroke="#003399" stroke-width="14.3" stroke-linecap="round" stroke-linejoin="round"/>
<circle cx="1448.4" cy="541.6" r="16.6" fill="#003399"/>
<circle cx="3511.0" cy="1166.7" r="16.6" fill="#003399"/>
<path d="M1448.4 666.6 L1740.5 666.6 A20.5 20.5 0 0 0 1761.0 646.1 L1761.0 624.9 A20.5 20.5 0 0 1 1781.5 604.4 L3316.3 604.4 A38.0 38.0 0 0 1 3354.3 642.4 L3354.3 1166.7" fill="none" stroke="#ff8800" stroke-width="14.3" stroke-linecap="round" stroke-linejoin="round"/>
<circle cx="1448.4" cy="666.6" r="16.6" fill="#ff8800"/>
<circle cx="3354.3" cy="1166.7" r="16.6" fill="#ff8800"/>
<path d="M1448.4 791.6 L1785.4 791.6 A38.0 38.0 0 0 0 1823.4 753.6 L1823.4 704.0 A38.0 38.0 0 0 1 1861.4 666.0 L2410.6 666.0 A38.0 38.0 0 0 1 2448.6 704.0 L2448.6 1166.7" fill="none" stroke="#00ffff" stroke-width="14.3" stroke-linecap="round" stroke-linejoin="round"/>
<circle cx="1448.4" cy="791.6" r="16.6" fill="#00ffff"/>
<circle cx="2448.6" cy="1166.7" r="16.6" fill="#00ffff"/>
<path d="M1448.4 916.6 L1848.0 916.6 A38.0 38.0 0 0 0 1886.0 878.6 L1886.0 766.7 A38.0 38.0 0 0 1 1924.0 728.7 L2566.0 728.7 A38.0 38.0 0 0 1 2604.0 766.7 L2604.0 1166.7" fill="none" stroke="#a65a3f" stroke-width="14.3" stroke-linecap="round" stroke-linejoin="round"/>
<circle cx="1448.4" cy="916.6" r="16.6" fill="#a65a3f"/>
<circle cx="2604.0" cy="1166.7" r="16.6" fill="#a65a3f"/>
<path d="M1448.4 1041.6 L1910.4 1041.6 A38.0 38.0 0 0 0 1948.4 1003.6 L1948.4 829.7 A38.0 38.0 0 0 1 1986.4 791.7 L2691.0 791.7 A38.0 38.0 0 0 1 2729.0 829.7 L2729.0 1166.7" fill="none" stroke="#225500" stroke-width="14.3" stroke-linecap="round" stroke-linejoin="round"/>
<circle cx="1448.4" cy="1041.6" r="16.6" fill="#225500"/>
<circle cx="2729.0" cy="1166.7" r="16.6" fill="#225500"/>
<path d="M1448.4 1166.6 L1972.9 1166.6 A38.0 38.0 0 0 0 2010.9 1128.6 L2010.9 892.6 A38.0 38.0 0 0 1 2048.9 854.6 L3160.4 854.6 A38.0 38.0 0 0 1 3198.4 892.6 L3198.4 1166.7" fill="none" stroke="#9b8ee5" stroke-width="14.3" stroke-linecap="round" stroke-linejoin="round"/>
<circle cx="1448.4" cy="1166.6" r="16.6" fill="#9b8ee5"/>
<circle cx="3198.4" cy="1166.7" r="16.6" fill="#9b8ee5"/>
<path d="M1448.4 1291.6 L1552.3 1291.6 A20.7 20.7 0 0 0 1573.0 1270.9 L1573.0 1249.7 A20.7 20.7 0 0 1 1593.7 1229.0 L2035.4 1229.0 A38.0 38.0 0 0 0 2073.4 1191.0 L2073.4 954.6 A38.0 38.0 0 0 1 2111.4 916.6 L2848.4 916.6 A38.0 38.0 0 0 1 2886.4 954.6 L2886.4 1166.7" fill="none" stroke="#ff77a8" stroke-width="14.3" stroke-linecap="round" stroke-linejoin="round"/>
<circle cx="1448.4" cy="1291.6" r="16.6" fill="#ff77a8"/>
<circle cx="2886.4" cy="1166.7" r="16.6" fill="#ff77a8"/>
<path d="M1448.4 1416.6 L1597.0 1416.6 A38.0 38.0 0 0 0 1635.0 1378.6 L1635.0 1329.0 A38.0 38.0 0 0 1 1673.0 1291.0 L2098.0 1291.0 A38.0 38.0 0 0 0 2136.0 1253.0 L2136.0 1048.5 A38.0 38.0 0 0 1 2174.0 1010.5 L3004.6 1010.5 A38.0 38.0 0 0 1 3042.6 1048.5 L3042.6 1166.7" fill="none" stroke="#663c3c" stroke-width="14.3" stroke-linecap="round" stroke-linejoin="round"/>
<circle cx="1448.4" cy="1416.6" r="16.6" fill="#663c3c"/>
<circle cx="3042.6" cy="1166.7" r="16.6" fill="#663c3c"/>
<path d="M885.8 666.5 L885.8 454.7 A38.0 38.0 0 0 1 923.8 416.7 L1660.4 416.7 A38.0 38.0 0 0 1 1698.4 454.7 L1698.4 2317.5 A38.0 38.0 0 0 1 1660.4 2355.5 L1486.4 2355.5 A38.0 38.0 0 0 0 1448.4 2393.5 L1448.4 2604.6" fill="none" stroke="#030502" stroke-width="14.3" stroke-linecap="round" stroke-linejoin="round"/>
<circle cx="885.8" cy="666.5" r="16.6" fill="#030502"/>
<circle cx="1448.4" cy="2604.6" r="16.6" fill="#030502"/>
<path d="M823.2 2979.7 L823.2 3354.4" fill="none" stroke="#e64e10" stroke-width="14.3" stroke-linecap="round" stroke-linejoin="round"/>
<circle cx="823.2" cy="2979.7" r="16.6" fill="#e64e10"/>
<circle cx="823.2" cy="3354.4" r="16.6" fill="#e64e10"/>
<path d="M1010.8 2979.7 L1010.8 3149.4 A20.6 20.6 0 0 1 990.1 3170.0 L968.9 3170.0 A20.6 20.6 0 0 0 948.2 3190.6 L948.2 3354.4" fill="none" stroke="#7b4a85" stroke-width="14.3" stroke-linecap="round" stroke-linejoin="round"/>
<circle cx="1010.8" cy="2979.7" r="16.6" fill="#7b4a85"/>
<circle cx="948.2" cy="3354.4" r="16.6" fill="#7b4a85"/>
<path d="M1073.3 2979.7 L1073.3 3209.4 A20.6 20.6 0 0 1 1052.7 3230.0 L1031.4 3230.0 A20.6 20.6 0 0 0 1010.8 3250.6 L1010.8 3354.4" fill="none" stroke="#004a56" stroke-width="14.3" stroke-linecap="round" stroke-linejoin="round"/>
<circle cx="1073.3" cy="2979.7" r="16.6" fill="#004a56"/>
<circle cx="1010.8" cy="3354.4" r="16.6" fill="#004a56"/>
<path d="M1135.8 2979.7 L1135.8 3240.4 A20.6 20.6 0 0 1 1115.2 3261.0 L1093.9 3261.0 A20.6 20.6 0 0 0 1073.3 3281.6 L1073.3 3354.4" fill="none" stroke="#b000ff" stroke-width="14.3" stroke-linecap="round" stroke-linejoin="round"/>
<circle cx="1135.8" cy="2979.7" r="16.6" fill="#b000ff"/>
<circle cx="1073.3" cy="3354.4" r="16.6" fill="#b000ff"/>
<path d="M1573.5 2979.7 L1573.5 3628.0 A38.0 38.0 0 0 0 1611.5 3666.0 L1942.0 3666.0 A38.0 38.0 0 0 0 1980.0 3628.0 L1980.0 3517.4 A38.0 38.0 0 0 1 2018.0 3479.4 L2135.7 3479.4" fill="none" stroke="#030502" stroke-width="14.3" stroke-linecap="round" stroke-linejoin="round"/>
<circle cx="1573.5" cy="2979.7" r="16.6" fill="#030502"/>
<circle cx="2135.7" cy="3479.4" r="16.6" fill="#030502"/>
<path d="M1573.5 2979.7 L1573.5 3065.5 A38.0 38.0 0 0 1 1535.5 3103.5 L923.7 3103.5 A38.0 38.0 0 0 0 885.7 3141.5 L885.7 3354.4" fill="none" stroke="#030502" stroke-width="14.3" stroke-linecap="round" stroke-linejoin="round"/>
<circle cx="1573.5" cy="2979.7" r="16.6" fill="#030502"/>
<circle cx="885.7" cy="3354.4" r="16.6" fill="#030502"/>
<path d="M1448.4 2979.7 L1448.4 3690.7 A38.0 38.0 0 0 0 1486.4 3728.7 L2003.6 3728.7 A38.0 38.0 0 0 0 2041.6 3690.7 L2041.6 3579.8 A38.0 38.0 0 0 1 2079.6 3541.8 L2135.7 3541.8" fill="none" stroke="#ff0000" stroke-width="14.3" stroke-linecap="round" stroke-linejoin="round"/>
<circle cx="1448.4" cy="2979.7" r="16.6" fill="#ff0000"/>
<circle cx="2135.7" cy="3541.8" r="16.6" fill="#ff0000"/>
<path d="M1448.4 2979.7 L1448.4 3128.8 A38.0 38.0 0 0 0 1486.4 3166.8 L3348.0 3166.8 A38.0 38.0 0 0 1 3386.0 3204.8 L3386.0 3317.2 A38.0 38.0 0 0 1 3348.0 3355.2 L3266.0 3355.2" fill="none" stroke="#ff0000" stroke-width="14.3" stroke-linecap="round" stroke-linejoin="round"/>
<circle cx="1448.4" cy="2979.7" r="16.6" fill="#ff0000"/>
<circle cx="3266.0" cy="3355.2" r="16.6" fill="#ff0000"/>
<path d="M1198.3 2979.7 L1198.3 3254.1 A38.0 38.0 0 0 0 1236.3 3292.1 L2135.7 3292.1" fill="none" stroke="#f5b800" stroke-width="14.3" stroke-linecap="round" stroke-linejoin="round"/>
<circle cx="1198.3" cy="2979.7" r="16.6" fill="#f5b800"/>
<circle cx="2135.7" cy="3292.1" r="16.6" fill="#f5b800"/>
<path d="M1260.9 2979.7 L1260.9 3316.5 A38.0 38.0 0 0 0 1298.9 3354.5 L2135.7 3354.5" fill="none" stroke="#005000" stroke-width="14.3" stroke-linecap="round" stroke-linejoin="round"/>
<circle cx="1260.9" cy="2979.7" r="16.6" fill="#005000"/>
<circle cx="2135.7" cy="3354.5" r="16.6" fill="#005000"/>
<path d="M948.3 2979.7 L948.3 2924.4 A38.0 38.0 0 0 1 986.3 2886.4 L2785.8 2886.4 A38.0 38.0 0 0 1 2823.8 2924.4 L2823.8 3317.2 A38.0 38.0 0 0 0 2861.8 3355.2 L3073.6 3355.2" fill="none" stroke="#00ff10" stroke-width="14.3" stroke-linecap="round" stroke-linejoin="round"/>
<circle cx="948.3" cy="2979.7" r="16.6" fill="#00ff10"/>
<circle cx="3073.6" cy="3355.2" r="16.6" fill="#00ff10"/>
<text x="1140.6" y="4019" font-family="Liberation Sans" font-weight="bold" font-size="170" fill="#000" stroke="#000" stroke-width="4" textLength="2133" lengthAdjust="spacingAndGlyphs">With Homemade Matrix</text></svg></body></html>
